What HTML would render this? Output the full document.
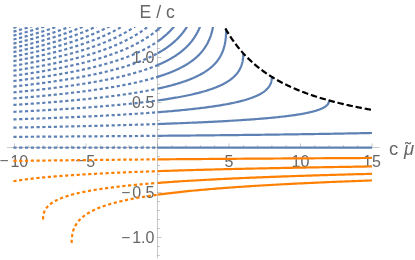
<!DOCTYPE html>
<html><head><meta charset="utf-8"><style>
html,body{margin:0;padding:0;background:#fff;}
svg{display:block;will-change:transform}
.c{fill:none;stroke-width:2.2;stroke-linecap:butt;stroke-linejoin:round}
.d{stroke-dasharray:1.0 4.78;stroke-linecap:square}
.a line{stroke:#666;stroke-width:0.36}
text{font-family:"Liberation Sans",sans-serif;fill:#666}
.t{font-size:16px}
.m{font-size:15.5px}
.l{font-size:18.5px}
</style></head><body>
<svg width="415" height="260" viewBox="0 0 415 260">
<defs><clipPath id="cp"><rect x="0" y="27.0" width="415" height="231.39999999999998"/></clipPath></defs>
<rect width="415" height="260" fill="#fff"/>
<g class="a">
<line x1="7.1" y1="147.5" x2="379.6" y2="147.5"/>
<line x1="157.5" y1="27.0" x2="157.5" y2="258.4"/>
<line x1="14.50" y1="147.5" x2="14.50" y2="143.4"/>
<line x1="28.80" y1="147.5" x2="28.80" y2="145.1"/>
<line x1="43.10" y1="147.5" x2="43.10" y2="145.1"/>
<line x1="57.40" y1="147.5" x2="57.40" y2="145.1"/>
<line x1="71.70" y1="147.5" x2="71.70" y2="145.1"/>
<line x1="86.00" y1="147.5" x2="86.00" y2="143.4"/>
<line x1="100.30" y1="147.5" x2="100.30" y2="145.1"/>
<line x1="114.60" y1="147.5" x2="114.60" y2="145.1"/>
<line x1="128.90" y1="147.5" x2="128.90" y2="145.1"/>
<line x1="143.20" y1="147.5" x2="143.20" y2="145.1"/>
<line x1="157.50" y1="147.5" x2="157.50" y2="143.4"/>
<line x1="171.80" y1="147.5" x2="171.80" y2="145.1"/>
<line x1="186.10" y1="147.5" x2="186.10" y2="145.1"/>
<line x1="200.40" y1="147.5" x2="200.40" y2="145.1"/>
<line x1="214.70" y1="147.5" x2="214.70" y2="145.1"/>
<line x1="229.00" y1="147.5" x2="229.00" y2="143.4"/>
<line x1="243.30" y1="147.5" x2="243.30" y2="145.1"/>
<line x1="257.60" y1="147.5" x2="257.60" y2="145.1"/>
<line x1="271.90" y1="147.5" x2="271.90" y2="145.1"/>
<line x1="286.20" y1="147.5" x2="286.20" y2="145.1"/>
<line x1="300.50" y1="147.5" x2="300.50" y2="143.4"/>
<line x1="314.80" y1="147.5" x2="314.80" y2="145.1"/>
<line x1="329.10" y1="147.5" x2="329.10" y2="145.1"/>
<line x1="343.40" y1="147.5" x2="343.40" y2="145.1"/>
<line x1="357.70" y1="147.5" x2="357.70" y2="145.1"/>
<line x1="372.00" y1="147.5" x2="372.00" y2="143.4"/>
<line x1="157.5" y1="255.50" x2="159.9" y2="255.50"/>
<line x1="157.5" y1="246.50" x2="159.9" y2="246.50"/>
<line x1="157.5" y1="237.50" x2="161.6" y2="237.50"/>
<line x1="157.5" y1="228.50" x2="159.9" y2="228.50"/>
<line x1="157.5" y1="219.50" x2="159.9" y2="219.50"/>
<line x1="157.5" y1="210.50" x2="159.9" y2="210.50"/>
<line x1="157.5" y1="201.50" x2="159.9" y2="201.50"/>
<line x1="157.5" y1="192.50" x2="161.6" y2="192.50"/>
<line x1="157.5" y1="183.50" x2="159.9" y2="183.50"/>
<line x1="157.5" y1="174.50" x2="159.9" y2="174.50"/>
<line x1="157.5" y1="165.50" x2="159.9" y2="165.50"/>
<line x1="157.5" y1="156.50" x2="159.9" y2="156.50"/>
<line x1="157.5" y1="147.50" x2="161.6" y2="147.50"/>
<line x1="157.5" y1="138.50" x2="159.9" y2="138.50"/>
<line x1="157.5" y1="129.50" x2="159.9" y2="129.50"/>
<line x1="157.5" y1="120.50" x2="159.9" y2="120.50"/>
<line x1="157.5" y1="111.50" x2="159.9" y2="111.50"/>
<line x1="157.5" y1="102.50" x2="161.6" y2="102.50"/>
<line x1="157.5" y1="93.50" x2="159.9" y2="93.50"/>
<line x1="157.5" y1="84.50" x2="159.9" y2="84.50"/>
<line x1="157.5" y1="75.50" x2="159.9" y2="75.50"/>
<line x1="157.5" y1="66.50" x2="159.9" y2="66.50"/>
<line x1="157.5" y1="57.50" x2="161.6" y2="57.50"/>
<line x1="157.5" y1="48.50" x2="159.9" y2="48.50"/>
<line x1="157.5" y1="39.50" x2="159.9" y2="39.50"/>
<line x1="157.5" y1="30.50" x2="159.9" y2="30.50"/>
</g>
<text x="15.00" y="166.5" text-anchor="middle" class="t"><tspan class="m" dx="-1.2" dy="-0.3">−</tspan><tspan dx="1.9" dy="0.3">10</tspan></text>
<text x="86.50" y="166.5" text-anchor="middle" class="t"><tspan class="m" dx="-1.2" dy="-0.3">−</tspan><tspan dx="1.9" dy="0.3">5</tspan></text>
<text x="229.00" y="166.5" text-anchor="middle" class="t">5</text>
<text x="300.50" y="166.5" text-anchor="middle" class="t">10</text>
<text x="372.00" y="166.5" text-anchor="middle" class="t">15</text>
<text x="154.3" y="63.10" text-anchor="end" class="t">1.0</text>
<text x="154.3" y="108.10" text-anchor="end" class="t">0.5</text>
<text x="155.6" y="198.10" text-anchor="end" class="t"><tspan class="m" dx="-1.2" dy="-0.3">−</tspan><tspan dx="1.9" dy="0.3">0.5</tspan></text>
<text x="155.6" y="243.10" text-anchor="end" class="t"><tspan class="m" dx="-1.2" dy="-0.3">−</tspan><tspan dx="1.9" dy="0.3">1.0</tspan></text>
<text x="139.6" y="17.5" class="l" textLength="35.2" lengthAdjust="spacingAndGlyphs">E / c</text>
<text x="388.9" y="154.8" class="l">c <tspan font-style="italic" dx="0.8">μ</tspan></text>
<text x="405.0" y="154.8" class="l">˜</text>
<g clip-path="url(#cp)">
<path d="M14.50 147.60 L15.81 147.60 L17.12 147.60 L18.44 147.60 L19.75 147.60 L21.06 147.60 L22.37 147.60 L23.68 147.60 L25.00 147.60 L26.31 147.60 L27.62 147.60 L28.93 147.60 L30.24 147.60 L31.56 147.60 L32.87 147.60 L34.18 147.60 L35.49 147.60 L36.80 147.60 L38.11 147.60 L39.43 147.60 L40.74 147.60 L42.05 147.60 L43.36 147.60 L44.67 147.60 L45.99 147.60 L47.30 147.60 L48.61 147.60 L49.92 147.60 L51.23 147.60 L52.55 147.60 L53.86 147.60 L55.17 147.60 L56.48 147.60 L57.79 147.60 L59.11 147.60 L60.42 147.60 L61.73 147.60 L63.04 147.60 L64.35 147.60 L65.67 147.60 L66.98 147.60 L68.29 147.60 L69.60 147.60 L70.91 147.60 L72.22 147.60 L73.54 147.60 L74.85 147.60 L76.16 147.60 L77.47 147.60 L78.78 147.60 L80.10 147.60 L81.41 147.60 L82.72 147.60 L84.03 147.60 L85.34 147.60 L86.66 147.60 L87.97 147.60 L89.28 147.60 L90.59 147.60 L91.90 147.60 L93.22 147.60 L94.53 147.60 L95.84 147.60 L97.15 147.60 L98.46 147.60 L99.78 147.60 L101.09 147.60 L102.40 147.60 L103.71 147.60 L105.02 147.60 L106.33 147.60 L107.65 147.60 L108.96 147.60 L110.27 147.60 L111.58 147.60 L112.89 147.60 L114.21 147.60 L115.52 147.60 L116.83 147.60 L118.14 147.60 L119.45 147.60 L120.77 147.60 L122.08 147.60 L123.39 147.60 L124.70 147.60 L126.01 147.60 L127.33 147.60 L128.64 147.60 L129.95 147.60 L131.26 147.60 L132.57 147.60 L133.89 147.60 L135.20 147.60 L136.51 147.60 L137.82 147.60 L139.13 147.60 L140.44 147.60 L141.76 147.60 L143.07 147.60 L144.38 147.60 L145.69 147.60 L147.00 147.60 L148.32 147.60 L149.63 147.60 L150.94 147.60 L152.25 147.60 L153.56 147.60 L154.88 147.60 L156.19 147.60 L157.50 147.60" stroke="#5e81b5" class="c d"/>
<path d="M157.50 147.60 L158.85 147.60 L160.20 147.60 L161.55 147.60 L162.90 147.60 L164.25 147.60 L165.59 147.60 L166.94 147.60 L168.29 147.60 L169.64 147.60 L170.99 147.60 L172.34 147.60 L173.69 147.60 L175.04 147.60 L176.39 147.60 L177.74 147.60 L179.08 147.60 L180.43 147.60 L181.78 147.60 L183.13 147.60 L184.48 147.60 L185.83 147.60 L187.18 147.60 L188.53 147.60 L189.88 147.60 L191.23 147.60 L192.58 147.60 L193.92 147.60 L195.27 147.60 L196.62 147.60 L197.97 147.60 L199.32 147.60 L200.67 147.60 L202.02 147.60 L203.37 147.60 L204.72 147.60 L206.07 147.60 L207.42 147.60 L208.76 147.60 L210.11 147.60 L211.46 147.60 L212.81 147.60 L214.16 147.60 L215.51 147.60 L216.86 147.60 L218.21 147.60 L219.56 147.60 L220.91 147.60 L222.25 147.60 L223.60 147.60 L224.95 147.60 L226.30 147.60 L227.65 147.60 L229.00 147.60 L230.35 147.60 L231.70 147.60 L233.05 147.60 L234.40 147.60 L235.75 147.60 L237.09 147.60 L238.44 147.60 L239.79 147.60 L241.14 147.60 L242.49 147.60 L243.84 147.60 L245.19 147.60 L246.54 147.60 L247.89 147.60 L249.24 147.60 L250.58 147.60 L251.93 147.60 L253.28 147.60 L254.63 147.60 L255.98 147.60 L257.33 147.60 L258.68 147.60 L260.03 147.60 L261.38 147.60 L262.73 147.60 L264.08 147.60 L265.42 147.60 L266.77 147.60 L268.12 147.60 L269.47 147.60 L270.82 147.60 L272.17 147.60 L273.52 147.60 L274.87 147.60 L276.22 147.60 L277.57 147.60 L278.92 147.60 L280.26 147.60 L281.61 147.60 L282.96 147.60 L284.31 147.60 L285.66 147.60 L287.01 147.60 L288.36 147.60 L289.71 147.60 L291.06 147.60 L292.41 147.60 L293.75 147.60 L295.10 147.60 L296.45 147.60 L297.80 147.60 L299.15 147.60 L300.50 147.60 L301.85 147.60 L303.20 147.60 L304.55 147.60 L305.90 147.60 L307.25 147.60 L308.59 147.60 L309.94 147.60 L311.29 147.60 L312.64 147.60 L313.99 147.60 L315.34 147.60 L316.69 147.60 L318.04 147.60 L319.39 147.60 L320.74 147.60 L322.08 147.60 L323.43 147.60 L324.78 147.60 L326.13 147.60 L327.48 147.60 L328.83 147.60 L330.18 147.60 L331.53 147.60 L332.88 147.60 L334.23 147.60 L335.58 147.60 L336.92 147.60 L338.27 147.60 L339.62 147.60 L340.97 147.60 L342.32 147.60 L343.67 147.60 L345.02 147.60 L346.37 147.60 L347.72 147.60 L349.07 147.60 L350.42 147.60 L351.76 147.60 L353.11 147.60 L354.46 147.60 L355.81 147.60 L357.16 147.60 L358.51 147.60 L359.86 147.60 L361.21 147.60 L362.56 147.60 L363.91 147.60 L365.25 147.60 L366.60 147.60 L367.95 147.60 L369.30 147.60 L370.65 147.60 L372.00 147.60" stroke="#5e81b5" class="c"/>
<path d="M14.50 136.84 L15.81 136.83 L17.12 136.83 L18.44 136.82 L19.75 136.81 L21.06 136.80 L22.37 136.79 L23.68 136.79 L25.00 136.78 L26.31 136.77 L27.62 136.76 L28.93 136.75 L30.24 136.75 L31.56 136.74 L32.87 136.73 L34.18 136.72 L35.49 136.71 L36.80 136.70 L38.11 136.70 L39.43 136.69 L40.74 136.68 L42.05 136.67 L43.36 136.66 L44.67 136.65 L45.99 136.65 L47.30 136.64 L48.61 136.63 L49.92 136.62 L51.23 136.61 L52.55 136.60 L53.86 136.60 L55.17 136.59 L56.48 136.58 L57.79 136.57 L59.11 136.56 L60.42 136.55 L61.73 136.54 L63.04 136.53 L64.35 136.53 L65.67 136.52 L66.98 136.51 L68.29 136.50 L69.60 136.49 L70.91 136.48 L72.22 136.47 L73.54 136.46 L74.85 136.45 L76.16 136.44 L77.47 136.44 L78.78 136.43 L80.10 136.42 L81.41 136.41 L82.72 136.40 L84.03 136.39 L85.34 136.38 L86.66 136.37 L87.97 136.36 L89.28 136.35 L90.59 136.34 L91.90 136.33 L93.22 136.32 L94.53 136.31 L95.84 136.31 L97.15 136.30 L98.46 136.29 L99.78 136.28 L101.09 136.27 L102.40 136.26 L103.71 136.25 L105.02 136.24 L106.33 136.23 L107.65 136.22 L108.96 136.21 L110.27 136.20 L111.58 136.19 L112.89 136.18 L114.21 136.17 L115.52 136.16 L116.83 136.15 L118.14 136.14 L119.45 136.13 L120.77 136.12 L122.08 136.11 L123.39 136.10 L124.70 136.09 L126.01 136.08 L127.33 136.07 L128.64 136.06 L129.95 136.05 L131.26 136.04 L132.57 136.03 L133.89 136.01 L135.20 136.00 L136.51 135.99 L137.82 135.98 L139.13 135.97 L140.44 135.96 L141.76 135.95 L143.07 135.94 L144.38 135.93 L145.69 135.92 L147.00 135.91 L148.32 135.90 L149.63 135.89 L150.94 135.87 L152.25 135.86 L153.56 135.85 L154.88 135.84 L156.19 135.83 L157.50 135.82" stroke="#5e81b5" class="c d"/>
<path d="M157.50 135.82 L158.85 135.81 L160.20 135.80 L161.55 135.78 L162.90 135.77 L164.25 135.76 L165.59 135.75 L166.94 135.74 L168.29 135.72 L169.64 135.71 L170.99 135.70 L172.34 135.69 L173.69 135.68 L175.04 135.66 L176.39 135.65 L177.74 135.64 L179.08 135.63 L180.43 135.62 L181.78 135.60 L183.13 135.59 L184.48 135.58 L185.83 135.57 L187.18 135.55 L188.53 135.54 L189.88 135.53 L191.23 135.51 L192.58 135.50 L193.92 135.49 L195.27 135.48 L196.62 135.46 L197.97 135.45 L199.32 135.44 L200.67 135.42 L202.02 135.41 L203.37 135.40 L204.72 135.38 L206.07 135.37 L207.42 135.36 L208.76 135.34 L210.11 135.33 L211.46 135.32 L212.81 135.30 L214.16 135.29 L215.51 135.27 L216.86 135.26 L218.21 135.25 L219.56 135.23 L220.91 135.22 L222.25 135.20 L223.60 135.19 L224.95 135.18 L226.30 135.16 L227.65 135.15 L229.00 135.13 L230.35 135.12 L231.70 135.10 L233.05 135.09 L234.40 135.07 L235.75 135.06 L237.09 135.04 L238.44 135.03 L239.79 135.01 L241.14 135.00 L242.49 134.98 L243.84 134.97 L245.19 134.95 L246.54 134.94 L247.89 134.92 L249.24 134.90 L250.58 134.89 L251.93 134.87 L253.28 134.86 L254.63 134.84 L255.98 134.83 L257.33 134.81 L258.68 134.79 L260.03 134.78 L261.38 134.76 L262.73 134.74 L264.08 134.73 L265.42 134.71 L266.77 134.69 L268.12 134.68 L269.47 134.66 L270.82 134.64 L272.17 134.63 L273.52 134.61 L274.87 134.59 L276.22 134.57 L277.57 134.56 L278.92 134.54 L280.26 134.52 L281.61 134.50 L282.96 134.48 L284.31 134.47 L285.66 134.45 L287.01 134.43 L288.36 134.41 L289.71 134.39 L291.06 134.37 L292.41 134.36 L293.75 134.34 L295.10 134.32 L296.45 134.30 L297.80 134.28 L299.15 134.26 L300.50 134.24 L301.85 134.22 L303.20 134.20 L304.55 134.18 L305.90 134.16 L307.25 134.14 L308.59 134.12 L309.94 134.10 L311.29 134.08 L312.64 134.06 L313.99 134.04 L315.34 134.02 L316.69 134.00 L318.04 133.98 L319.39 133.96 L320.74 133.93 L322.08 133.91 L323.43 133.89 L324.78 133.87 L326.13 133.85 L327.48 133.82 L328.83 133.80 L330.18 133.78 L331.53 133.76 L332.88 133.73 L334.23 133.71 L335.58 133.69 L336.92 133.66 L338.27 133.64 L339.62 133.62 L340.97 133.59 L342.32 133.57 L343.67 133.55 L345.02 133.52 L346.37 133.50 L347.72 133.47 L349.07 133.45 L350.42 133.42 L351.76 133.40 L353.11 133.37 L354.46 133.34 L355.81 133.32 L357.16 133.29 L358.51 133.27 L359.86 133.24 L361.21 133.21 L362.56 133.18 L363.91 133.16 L365.25 133.13 L366.60 133.10 L367.95 133.07 L369.30 133.04 L370.65 133.02 L372.00 132.99" stroke="#5e81b5" class="c"/>
<path d="M14.50 127.58 L15.81 127.56 L17.12 127.53 L18.44 127.51 L19.75 127.48 L21.06 127.46 L22.37 127.44 L23.68 127.41 L25.00 127.39 L26.31 127.36 L27.62 127.34 L28.93 127.31 L30.24 127.29 L31.56 127.26 L32.87 127.23 L34.18 127.21 L35.49 127.18 L36.80 127.16 L38.11 127.13 L39.43 127.10 L40.74 127.08 L42.05 127.05 L43.36 127.03 L44.67 127.00 L45.99 126.97 L47.30 126.95 L48.61 126.92 L49.92 126.89 L51.23 126.86 L52.55 126.84 L53.86 126.81 L55.17 126.78 L56.48 126.75 L57.79 126.72 L59.11 126.70 L60.42 126.67 L61.73 126.64 L63.04 126.61 L64.35 126.58 L65.67 126.55 L66.98 126.52 L68.29 126.50 L69.60 126.47 L70.91 126.44 L72.22 126.41 L73.54 126.38 L74.85 126.35 L76.16 126.32 L77.47 126.29 L78.78 126.26 L80.10 126.22 L81.41 126.19 L82.72 126.16 L84.03 126.13 L85.34 126.10 L86.66 126.07 L87.97 126.04 L89.28 126.01 L90.59 125.97 L91.90 125.94 L93.22 125.91 L94.53 125.88 L95.84 125.84 L97.15 125.81 L98.46 125.78 L99.78 125.74 L101.09 125.71 L102.40 125.68 L103.71 125.64 L105.02 125.61 L106.33 125.57 L107.65 125.54 L108.96 125.50 L110.27 125.47 L111.58 125.43 L112.89 125.40 L114.21 125.36 L115.52 125.33 L116.83 125.29 L118.14 125.25 L119.45 125.22 L120.77 125.18 L122.08 125.14 L123.39 125.11 L124.70 125.07 L126.01 125.03 L127.33 124.99 L128.64 124.95 L129.95 124.91 L131.26 124.88 L132.57 124.84 L133.89 124.80 L135.20 124.76 L136.51 124.72 L137.82 124.68 L139.13 124.64 L140.44 124.60 L141.76 124.56 L143.07 124.51 L144.38 124.47 L145.69 124.43 L147.00 124.39 L148.32 124.35 L149.63 124.30 L150.94 124.26 L152.25 124.22 L153.56 124.17 L154.88 124.13 L156.19 124.08 L157.50 124.04" stroke="#5e81b5" class="c d"/>
<path d="M157.50 124.04 L160.72 123.93 L163.89 123.81 L167.03 123.70 L170.13 123.59 L173.18 123.47 L176.20 123.36 L179.18 123.24 L182.12 123.13 L185.02 123.01 L187.88 122.89 L190.71 122.77 L193.49 122.65 L196.24 122.53 L198.95 122.41 L201.63 122.29 L204.27 122.17 L206.87 122.04 L209.43 121.92 L211.96 121.80 L214.45 121.67 L216.91 121.54 L219.33 121.42 L221.72 121.29 L224.07 121.16 L226.38 121.03 L228.67 120.90 L230.91 120.77 L233.13 120.64 L235.31 120.51 L237.46 120.37 L239.57 120.24 L241.65 120.10 L243.70 119.97 L245.72 119.83 L247.71 119.69 L249.66 119.56 L251.58 119.42 L253.47 119.28 L255.33 119.14 L257.16 119.00 L258.96 118.85 L260.73 118.71 L262.47 118.57 L264.17 118.42 L265.85 118.28 L267.50 118.13 L269.12 117.98 L270.72 117.84 L272.28 117.69 L273.82 117.54 L275.32 117.39 L276.80 117.24 L278.26 117.09 L279.68 116.93 L281.08 116.78 L282.45 116.63 L283.80 116.47 L285.12 116.31 L286.41 116.16 L287.68 116.00 L288.92 115.84 L290.14 115.68 L291.33 115.52 L292.50 115.36 L293.64 115.20 L294.76 115.04 L295.86 114.88 L296.93 114.71 L297.98 114.55 L299.00 114.39 L300.01 114.22 L300.99 114.05 L301.95 113.89 L302.88 113.72 L303.80 113.55 L304.69 113.38 L305.56 113.21 L306.41 113.04 L307.24 112.87 L308.05 112.70 L308.84 112.53 L309.61 112.35 L310.36 112.18 L311.09 112.01 L311.80 111.83 L312.49 111.66 L313.17 111.48 L313.82 111.31 L314.46 111.13 L315.08 110.95 L315.68 110.78 L316.26 110.60 L316.83 110.42 L317.38 110.24 L317.91 110.06 L318.43 109.88 L318.93 109.70 L319.41 109.52 L319.88 109.34 L320.33 109.16 L320.77 108.98 L321.19 108.80 L321.60 108.62 L322.00 108.44 L322.38 108.26 L322.74 108.08 L323.10 107.90 L323.44 107.72 L323.76 107.54 L324.08 107.36 L324.38 107.18 L324.67 107.00 L324.94 106.82 L325.21 106.64 L325.46 106.46 L325.71 106.29 L325.94 106.11 L326.16 105.93 L326.37 105.76 L326.57 105.58 L326.76 105.41 L326.94 105.23 L327.11 105.06 L327.27 104.89 L327.42 104.72 L327.57 104.55 L327.70 104.38 L327.83 104.21 L327.95 104.05 L328.06 103.88 L328.16 103.72 L328.26 103.56 L328.35 103.40 L328.43 103.24 L328.51 103.09 L328.58 102.93 L328.65 102.78 L328.70 102.63 L328.76 102.49 L328.81 102.35 L328.85 102.21 L328.89 102.07 L328.93 101.93 L328.96 101.80 L328.98 101.68 L329.01 101.55 L329.03 101.43 L329.04 101.32 L329.06 101.21 L329.07 101.10 L329.08 101.00 L329.09 100.91 L329.09 100.82 L329.09 100.74 L329.10 100.66 L329.10 100.60 L329.10 100.54 L329.10 100.50 L329.10 100.48" stroke="#5e81b5" class="c"/>
<path d="M14.50 119.33 L15.81 119.28 L17.12 119.24 L18.44 119.19 L19.75 119.15 L21.06 119.11 L22.37 119.06 L23.68 119.02 L25.00 118.97 L26.31 118.93 L27.62 118.88 L28.93 118.83 L30.24 118.79 L31.56 118.74 L32.87 118.70 L34.18 118.65 L35.49 118.60 L36.80 118.55 L38.11 118.51 L39.43 118.46 L40.74 118.41 L42.05 118.36 L43.36 118.31 L44.67 118.26 L45.99 118.21 L47.30 118.16 L48.61 118.11 L49.92 118.06 L51.23 118.01 L52.55 117.96 L53.86 117.91 L55.17 117.86 L56.48 117.80 L57.79 117.75 L59.11 117.70 L60.42 117.64 L61.73 117.59 L63.04 117.54 L64.35 117.48 L65.67 117.43 L66.98 117.37 L68.29 117.32 L69.60 117.26 L70.91 117.20 L72.22 117.15 L73.54 117.09 L74.85 117.03 L76.16 116.97 L77.47 116.92 L78.78 116.86 L80.10 116.80 L81.41 116.74 L82.72 116.68 L84.03 116.62 L85.34 116.56 L86.66 116.50 L87.97 116.43 L89.28 116.37 L90.59 116.31 L91.90 116.24 L93.22 116.18 L94.53 116.12 L95.84 116.05 L97.15 115.99 L98.46 115.92 L99.78 115.85 L101.09 115.79 L102.40 115.72 L103.71 115.65 L105.02 115.58 L106.33 115.51 L107.65 115.44 L108.96 115.37 L110.27 115.30 L111.58 115.23 L112.89 115.16 L114.21 115.09 L115.52 115.01 L116.83 114.94 L118.14 114.86 L119.45 114.79 L120.77 114.71 L122.08 114.64 L123.39 114.56 L124.70 114.48 L126.01 114.40 L127.33 114.32 L128.64 114.24 L129.95 114.16 L131.26 114.08 L132.57 114.00 L133.89 113.91 L135.20 113.83 L136.51 113.74 L137.82 113.66 L139.13 113.57 L140.44 113.48 L141.76 113.40 L143.07 113.31 L144.38 113.22 L145.69 113.12 L147.00 113.03 L148.32 112.94 L149.63 112.84 L150.94 112.75 L152.25 112.65 L153.56 112.56 L154.88 112.46 L156.19 112.36 L157.50 112.26" stroke="#5e81b5" class="c d"/>
<path d="M157.50 112.26 L159.64 112.09 L161.76 111.92 L163.85 111.75 L165.92 111.58 L167.96 111.41 L169.97 111.24 L171.95 111.06 L173.91 110.89 L175.85 110.71 L177.76 110.54 L179.64 110.36 L181.50 110.18 L183.33 110.00 L185.14 109.82 L186.92 109.64 L188.68 109.45 L190.41 109.27 L192.12 109.08 L193.81 108.89 L195.47 108.71 L197.11 108.52 L198.72 108.33 L200.31 108.13 L201.88 107.94 L203.42 107.75 L204.94 107.55 L206.44 107.36 L207.92 107.16 L209.37 106.96 L210.81 106.76 L212.22 106.56 L213.60 106.36 L214.97 106.15 L216.31 105.95 L217.64 105.74 L218.94 105.54 L220.22 105.33 L221.48 105.12 L222.72 104.91 L223.94 104.69 L225.14 104.48 L226.32 104.27 L227.48 104.05 L228.62 103.83 L229.74 103.62 L230.84 103.40 L231.92 103.18 L232.98 102.96 L234.02 102.73 L235.04 102.51 L236.05 102.28 L237.04 102.06 L238.00 101.83 L238.95 101.60 L239.89 101.37 L240.80 101.14 L241.70 100.91 L242.58 100.67 L243.44 100.44 L244.29 100.20 L245.11 99.96 L245.93 99.73 L246.72 99.49 L247.50 99.25 L248.26 99.00 L249.01 98.76 L249.74 98.52 L250.45 98.27 L251.15 98.03 L251.84 97.78 L252.51 97.53 L253.16 97.28 L253.80 97.03 L254.42 96.78 L255.03 96.53 L255.63 96.27 L256.21 96.02 L256.78 95.76 L257.33 95.51 L257.87 95.25 L258.39 94.99 L258.91 94.73 L259.41 94.47 L259.89 94.21 L260.37 93.95 L260.83 93.69 L261.28 93.42 L261.71 93.16 L262.14 92.89 L262.55 92.63 L262.95 92.36 L263.34 92.10 L263.72 91.83 L264.08 91.56 L264.44 91.29 L264.78 91.02 L265.12 90.76 L265.44 90.49 L265.75 90.22 L266.05 89.95 L266.35 89.68 L266.63 89.41 L266.90 89.13 L267.16 88.86 L267.42 88.59 L267.66 88.32 L267.90 88.05 L268.12 87.78 L268.34 87.51 L268.55 87.24 L268.75 86.97 L268.95 86.70 L269.13 86.43 L269.31 86.16 L269.48 85.90 L269.64 85.63 L269.79 85.36 L269.94 85.10 L270.08 84.83 L270.21 84.57 L270.34 84.31 L270.46 84.05 L270.57 83.79 L270.68 83.53 L270.78 83.27 L270.88 83.02 L270.97 82.77 L271.05 82.52 L271.13 82.27 L271.21 82.02 L271.28 81.78 L271.34 81.54 L271.40 81.30 L271.46 81.06 L271.51 80.83 L271.55 80.60 L271.60 80.37 L271.64 80.15 L271.67 79.93 L271.70 79.72 L271.73 79.51 L271.76 79.30 L271.78 79.10 L271.80 78.90 L271.82 78.71 L271.84 78.53 L271.85 78.35 L271.86 78.18 L271.87 78.01 L271.88 77.85 L271.89 77.70 L271.89 77.56 L271.89 77.43 L271.90 77.31 L271.90 77.20 L271.90 77.10 L271.90 77.01 L271.90 76.95 L271.90 76.91" stroke="#5e81b5" class="c"/>
<path d="M14.50 111.81 L15.81 111.74 L17.12 111.68 L18.44 111.61 L19.75 111.55 L21.06 111.48 L22.37 111.42 L23.68 111.35 L25.00 111.28 L26.31 111.22 L27.62 111.15 L28.93 111.08 L30.24 111.01 L31.56 110.94 L32.87 110.87 L34.18 110.80 L35.49 110.73 L36.80 110.66 L38.11 110.59 L39.43 110.52 L40.74 110.44 L42.05 110.37 L43.36 110.30 L44.67 110.22 L45.99 110.15 L47.30 110.07 L48.61 110.00 L49.92 109.92 L51.23 109.84 L52.55 109.77 L53.86 109.69 L55.17 109.61 L56.48 109.53 L57.79 109.45 L59.11 109.37 L60.42 109.29 L61.73 109.21 L63.04 109.12 L64.35 109.04 L65.67 108.96 L66.98 108.87 L68.29 108.79 L69.60 108.70 L70.91 108.61 L72.22 108.53 L73.54 108.44 L74.85 108.35 L76.16 108.26 L77.47 108.17 L78.78 108.08 L80.10 107.99 L81.41 107.89 L82.72 107.80 L84.03 107.71 L85.34 107.61 L86.66 107.51 L87.97 107.42 L89.28 107.32 L90.59 107.22 L91.90 107.12 L93.22 107.02 L94.53 106.92 L95.84 106.82 L97.15 106.71 L98.46 106.61 L99.78 106.50 L101.09 106.40 L102.40 106.29 L103.71 106.18 L105.02 106.07 L106.33 105.96 L107.65 105.85 L108.96 105.74 L110.27 105.62 L111.58 105.51 L112.89 105.39 L114.21 105.27 L115.52 105.15 L116.83 105.03 L118.14 104.91 L119.45 104.79 L120.77 104.66 L122.08 104.54 L123.39 104.41 L124.70 104.28 L126.01 104.15 L127.33 104.02 L128.64 103.89 L129.95 103.75 L131.26 103.61 L132.57 103.48 L133.89 103.34 L135.20 103.20 L136.51 103.05 L137.82 102.91 L139.13 102.76 L140.44 102.61 L141.76 102.46 L143.07 102.31 L144.38 102.15 L145.69 101.99 L147.00 101.84 L148.32 101.67 L149.63 101.51 L150.94 101.34 L152.25 101.18 L153.56 101.00 L154.88 100.83 L156.19 100.65 L157.50 100.48" stroke="#5e81b5" class="c d"/>
<path d="M157.50 100.48 L159.11 100.25 L160.70 100.03 L162.27 99.80 L163.81 99.58 L165.34 99.35 L166.85 99.12 L168.34 98.89 L169.81 98.65 L171.26 98.42 L172.69 98.18 L174.10 97.94 L175.50 97.71 L176.87 97.47 L178.23 97.22 L179.56 96.98 L180.88 96.74 L182.18 96.49 L183.47 96.24 L184.73 95.99 L185.98 95.74 L187.20 95.49 L188.41 95.23 L189.61 94.98 L190.78 94.72 L191.94 94.46 L193.08 94.20 L194.21 93.94 L195.31 93.68 L196.41 93.41 L197.48 93.15 L198.54 92.88 L199.58 92.61 L200.60 92.34 L201.61 92.06 L202.60 91.79 L203.58 91.51 L204.54 91.24 L205.49 90.96 L206.42 90.68 L207.33 90.39 L208.23 90.11 L209.11 89.82 L209.98 89.54 L210.84 89.25 L211.68 88.96 L212.50 88.66 L213.31 88.37 L214.11 88.07 L214.89 87.78 L215.66 87.48 L216.41 87.18 L217.15 86.88 L217.88 86.57 L218.59 86.27 L219.29 85.96 L219.98 85.65 L220.65 85.34 L221.31 85.03 L221.96 84.72 L222.59 84.40 L223.21 84.09 L223.82 83.77 L224.42 83.45 L225.00 83.13 L225.57 82.81 L226.13 82.48 L226.68 82.16 L227.22 81.83 L227.74 81.50 L228.25 81.17 L228.75 80.84 L229.24 80.51 L229.72 80.17 L230.19 79.84 L230.65 79.50 L231.10 79.16 L231.53 78.82 L231.96 78.48 L232.37 78.14 L232.78 77.80 L233.17 77.45 L233.56 77.11 L233.93 76.76 L234.30 76.41 L234.65 76.07 L235.00 75.72 L235.33 75.36 L235.66 75.01 L235.98 74.66 L236.29 74.31 L236.59 73.95 L236.88 73.60 L237.16 73.24 L237.44 72.88 L237.70 72.52 L237.96 72.17 L238.21 71.81 L238.46 71.45 L238.69 71.09 L238.92 70.73 L239.14 70.37 L239.35 70.01 L239.55 69.65 L239.75 69.29 L239.94 68.92 L240.12 68.56 L240.30 68.20 L240.47 67.84 L240.63 67.48 L240.79 67.12 L240.94 66.76 L241.08 66.40 L241.22 66.04 L241.35 65.69 L241.48 65.33 L241.60 64.97 L241.72 64.62 L241.83 64.26 L241.93 63.91 L242.03 63.56 L242.13 63.21 L242.22 62.86 L242.30 62.52 L242.38 62.17 L242.46 61.83 L242.53 61.49 L242.60 61.16 L242.66 60.82 L242.72 60.49 L242.78 60.16 L242.83 59.84 L242.88 59.52 L242.92 59.20 L242.97 58.88 L243.00 58.57 L243.04 58.27 L243.07 57.97 L243.10 57.67 L243.13 57.38 L243.15 57.09 L243.18 56.81 L243.20 56.54 L243.21 56.27 L243.23 56.01 L243.24 55.75 L243.25 55.51 L243.26 55.27 L243.27 55.04 L243.28 54.82 L243.28 54.60 L243.29 54.40 L243.29 54.21 L243.30 54.04 L243.30 53.87 L243.30 53.73 L243.30 53.60 L243.30 53.48 L243.30 53.40 L243.30 53.35" stroke="#5e81b5" class="c"/>
<path d="M14.50 104.85 L15.81 104.77 L17.12 104.68 L18.44 104.60 L19.75 104.51 L21.06 104.42 L22.37 104.33 L23.68 104.25 L25.00 104.16 L26.31 104.07 L27.62 103.98 L28.93 103.89 L30.24 103.79 L31.56 103.70 L32.87 103.61 L34.18 103.51 L35.49 103.42 L36.80 103.32 L38.11 103.23 L39.43 103.13 L40.74 103.03 L42.05 102.94 L43.36 102.84 L44.67 102.74 L45.99 102.64 L47.30 102.53 L48.61 102.43 L49.92 102.33 L51.23 102.22 L52.55 102.12 L53.86 102.01 L55.17 101.91 L56.48 101.80 L57.79 101.69 L59.11 101.58 L60.42 101.47 L61.73 101.36 L63.04 101.25 L64.35 101.13 L65.67 101.02 L66.98 100.90 L68.29 100.78 L69.60 100.67 L70.91 100.55 L72.22 100.43 L73.54 100.31 L74.85 100.18 L76.16 100.06 L77.47 99.94 L78.78 99.81 L80.10 99.68 L81.41 99.56 L82.72 99.43 L84.03 99.29 L85.34 99.16 L86.66 99.03 L87.97 98.89 L89.28 98.76 L90.59 98.62 L91.90 98.48 L93.22 98.34 L94.53 98.20 L95.84 98.05 L97.15 97.91 L98.46 97.76 L99.78 97.61 L101.09 97.46 L102.40 97.31 L103.71 97.16 L105.02 97.00 L106.33 96.84 L107.65 96.69 L108.96 96.52 L110.27 96.36 L111.58 96.20 L112.89 96.03 L114.21 95.86 L115.52 95.69 L116.83 95.52 L118.14 95.34 L119.45 95.16 L120.77 94.98 L122.08 94.80 L123.39 94.62 L124.70 94.43 L126.01 94.24 L127.33 94.05 L128.64 93.85 L129.95 93.65 L131.26 93.45 L132.57 93.25 L133.89 93.04 L135.20 92.83 L136.51 92.62 L137.82 92.40 L139.13 92.18 L140.44 91.96 L141.76 91.73 L143.07 91.50 L144.38 91.27 L145.69 91.03 L147.00 90.79 L148.32 90.54 L149.63 90.29 L150.94 90.04 L152.25 89.78 L153.56 89.52 L154.88 89.25 L156.19 88.97 L157.50 88.70" stroke="#5e81b5" class="c d"/>
<path d="M157.50 88.70 L158.79 88.42 L160.06 88.14 L161.31 87.85 L162.55 87.57 L163.77 87.28 L164.98 87.00 L166.17 86.71 L167.35 86.42 L168.51 86.12 L169.65 85.83 L170.78 85.53 L171.90 85.23 L173.00 84.93 L174.08 84.63 L175.15 84.33 L176.21 84.02 L177.25 83.71 L178.27 83.40 L179.28 83.09 L180.28 82.78 L181.26 82.46 L182.23 82.14 L183.19 81.82 L184.13 81.50 L185.05 81.18 L185.97 80.85 L186.87 80.53 L187.75 80.20 L188.62 79.87 L189.48 79.53 L190.33 79.20 L191.16 78.86 L191.98 78.52 L192.79 78.18 L193.58 77.84 L194.36 77.49 L195.13 77.14 L195.89 76.80 L196.63 76.44 L197.36 76.09 L198.08 75.74 L198.79 75.38 L199.49 75.02 L200.17 74.66 L200.84 74.29 L201.50 73.93 L202.15 73.56 L202.79 73.19 L203.41 72.82 L204.03 72.45 L204.63 72.07 L205.22 71.69 L205.80 71.31 L206.37 70.93 L206.93 70.55 L207.48 70.16 L208.02 69.78 L208.55 69.39 L209.06 69.00 L209.57 68.60 L210.07 68.21 L210.56 67.81 L211.03 67.41 L211.50 67.01 L211.96 66.61 L212.40 66.20 L212.84 65.80 L213.27 65.39 L213.69 64.98 L214.10 64.56 L214.50 64.15 L214.90 63.73 L215.28 63.32 L215.65 62.90 L216.02 62.48 L216.38 62.05 L216.72 61.63 L217.07 61.20 L217.40 60.78 L217.72 60.35 L218.04 59.92 L218.34 59.49 L218.64 59.05 L218.94 58.62 L219.22 58.18 L219.50 57.74 L219.77 57.31 L220.03 56.87 L220.28 56.42 L220.53 55.98 L220.77 55.54 L221.00 55.09 L221.23 54.65 L221.45 54.20 L221.66 53.76 L221.87 53.31 L222.07 52.86 L222.26 52.41 L222.45 51.96 L222.63 51.51 L222.81 51.06 L222.98 50.61 L223.14 50.16 L223.30 49.71 L223.45 49.25 L223.60 48.80 L223.74 48.35 L223.87 47.90 L224.01 47.45 L224.13 47.00 L224.25 46.55 L224.37 46.10 L224.48 45.65 L224.58 45.21 L224.69 44.76 L224.78 44.32 L224.87 43.87 L224.96 43.43 L225.05 42.99 L225.13 42.55 L225.20 42.11 L225.28 41.68 L225.34 41.25 L225.41 40.82 L225.47 40.39 L225.53 39.97 L225.58 39.55 L225.63 39.13 L225.68 38.71 L225.72 38.30 L225.77 37.90 L225.80 37.49 L225.84 37.10 L225.87 36.70 L225.90 36.32 L225.93 35.93 L225.96 35.56 L225.98 35.19 L226.00 34.82 L226.02 34.46 L226.04 34.11 L226.06 33.77 L226.07 33.43 L226.08 33.11 L226.09 32.79 L226.10 32.48 L226.11 32.18 L226.12 31.90 L226.12 31.62 L226.13 31.36 L226.13 31.11 L226.13 30.87 L226.14 30.65 L226.14 30.44 L226.14 30.26 L226.14 30.09 L226.14 29.96 L226.14 29.85 L226.14 29.79" stroke="#5e81b5" class="c"/>
<path d="M14.50 98.36 L15.81 98.25 L17.12 98.14 L18.44 98.04 L19.75 97.93 L21.06 97.82 L22.37 97.71 L23.68 97.60 L25.00 97.49 L26.31 97.38 L27.62 97.26 L28.93 97.15 L30.24 97.03 L31.56 96.92 L32.87 96.80 L34.18 96.68 L35.49 96.56 L36.80 96.44 L38.11 96.32 L39.43 96.20 L40.74 96.08 L42.05 95.95 L43.36 95.83 L44.67 95.70 L45.99 95.58 L47.30 95.45 L48.61 95.32 L49.92 95.19 L51.23 95.06 L52.55 94.92 L53.86 94.79 L55.17 94.65 L56.48 94.52 L57.79 94.38 L59.11 94.24 L60.42 94.10 L61.73 93.96 L63.04 93.81 L64.35 93.67 L65.67 93.52 L66.98 93.37 L68.29 93.22 L69.60 93.07 L70.91 92.92 L72.22 92.77 L73.54 92.61 L74.85 92.45 L76.16 92.30 L77.47 92.14 L78.78 91.97 L80.10 91.81 L81.41 91.64 L82.72 91.48 L84.03 91.31 L85.34 91.14 L86.66 90.96 L87.97 90.79 L89.28 90.61 L90.59 90.43 L91.90 90.25 L93.22 90.07 L94.53 89.88 L95.84 89.70 L97.15 89.51 L98.46 89.31 L99.78 89.12 L101.09 88.92 L102.40 88.72 L103.71 88.52 L105.02 88.32 L106.33 88.11 L107.65 87.90 L108.96 87.69 L110.27 87.47 L111.58 87.25 L112.89 87.03 L114.21 86.81 L115.52 86.58 L116.83 86.35 L118.14 86.11 L119.45 85.88 L120.77 85.64 L122.08 85.39 L123.39 85.14 L124.70 84.89 L126.01 84.63 L127.33 84.37 L128.64 84.11 L129.95 83.84 L131.26 83.57 L132.57 83.29 L133.89 83.01 L135.20 82.72 L136.51 82.43 L137.82 82.13 L139.13 81.83 L140.44 81.52 L141.76 81.21 L143.07 80.89 L144.38 80.56 L145.69 80.23 L147.00 79.89 L148.32 79.54 L149.63 79.19 L150.94 78.83 L152.25 78.47 L153.56 78.09 L154.88 77.71 L156.19 77.31 L157.50 76.91" stroke="#5e81b5" class="c d"/>
<path d="M157.50 76.91 L158.57 76.58 L159.63 76.24 L160.68 75.90 L161.71 75.56 L162.73 75.22 L163.73 74.88 L164.73 74.53 L165.71 74.18 L166.67 73.83 L167.63 73.47 L168.57 73.12 L169.50 72.76 L170.41 72.40 L171.32 72.04 L172.21 71.67 L173.09 71.30 L173.96 70.93 L174.81 70.56 L175.65 70.19 L176.48 69.81 L177.30 69.43 L178.11 69.05 L178.91 68.67 L179.69 68.28 L180.46 67.89 L181.22 67.50 L181.97 67.11 L182.71 66.72 L183.44 66.32 L184.15 65.92 L184.86 65.52 L185.55 65.11 L186.23 64.71 L186.91 64.30 L187.57 63.88 L188.22 63.47 L188.86 63.05 L189.49 62.63 L190.11 62.21 L190.72 61.79 L191.32 61.36 L191.91 60.93 L192.49 60.50 L193.06 60.07 L193.62 59.63 L194.17 59.19 L194.71 58.75 L195.24 58.31 L195.76 57.86 L196.27 57.42 L196.77 56.97 L197.27 56.51 L197.75 56.06 L198.23 55.60 L198.69 55.14 L199.15 54.68 L199.60 54.21 L200.04 53.74 L200.47 53.28 L200.89 52.80 L201.31 52.33 L201.71 51.85 L202.11 51.37 L202.50 50.89 L202.88 50.41 L203.25 49.92 L203.62 49.43 L203.98 48.94 L204.33 48.45 L204.67 47.96 L205.00 47.46 L205.33 46.96 L205.65 46.46 L205.96 45.96 L206.27 45.45 L206.56 44.95 L206.85 44.44 L207.14 43.93 L207.41 43.41 L207.68 42.90 L207.95 42.38 L208.20 41.86 L208.45 41.34 L208.70 40.82 L208.93 40.30 L209.16 39.77 L209.39 39.25 L209.61 38.72 L209.82 38.19 L210.03 37.66 L210.23 37.13 L210.42 36.59 L210.61 36.06 L210.79 35.52 L210.97 34.99 L211.14 34.45 L211.31 33.91 L211.47 33.37 L211.63 32.83 L211.78 32.29 L211.92 31.75 L212.06 31.21 L212.20 30.67 L212.33 30.13 L212.46 29.59 L212.58 29.04 L212.70 28.50 L212.81 27.96 L212.92 27.42 L213.03 26.88 L213.13 26.34 L213.22 25.80 L213.31 25.27 L213.40 24.73 L213.49 24.19 L213.57 23.66 L213.65 23.13 L213.72 22.60 L213.79 22.07 L213.86 21.54 L213.92 21.02 L213.98 20.50 L214.04 19.98 L214.09 19.46 L214.14 18.95 L214.19 18.44 L214.23 17.94 L214.28 17.43 L214.32 16.94 L214.35 16.44 L214.39 15.96 L214.42 15.47 L214.45 15.00 L214.48 14.53 L214.50 14.06 L214.53 13.60 L214.55 13.15 L214.57 12.70 L214.59 12.27 L214.60 11.84 L214.62 11.42 L214.63 11.00 L214.64 10.60 L214.65 10.21 L214.66 9.83 L214.67 9.46 L214.68 9.10 L214.68 8.75 L214.69 8.42 L214.69 8.11 L214.69 7.81 L214.70 7.52 L214.70 7.26 L214.70 7.01 L214.70 6.79 L214.70 6.59 L214.70 6.43 L214.70 6.30 L214.70 6.23" stroke="#5e81b5" class="c"/>
<path d="M14.50 92.24 L15.81 92.11 L17.12 91.98 L18.44 91.85 L19.75 91.72 L21.06 91.59 L22.37 91.46 L23.68 91.33 L25.00 91.20 L26.31 91.06 L27.62 90.93 L28.93 90.79 L30.24 90.65 L31.56 90.51 L32.87 90.37 L34.18 90.23 L35.49 90.09 L36.80 89.94 L38.11 89.80 L39.43 89.65 L40.74 89.50 L42.05 89.35 L43.36 89.20 L44.67 89.05 L45.99 88.90 L47.30 88.74 L48.61 88.58 L49.92 88.43 L51.23 88.27 L52.55 88.10 L53.86 87.94 L55.17 87.78 L56.48 87.61 L57.79 87.44 L59.11 87.27 L60.42 87.10 L61.73 86.93 L63.04 86.76 L64.35 86.58 L65.67 86.40 L66.98 86.22 L68.29 86.04 L69.60 85.85 L70.91 85.67 L72.22 85.48 L73.54 85.29 L74.85 85.10 L76.16 84.90 L77.47 84.71 L78.78 84.51 L80.10 84.31 L81.41 84.10 L82.72 83.90 L84.03 83.69 L85.34 83.48 L86.66 83.26 L87.97 83.05 L89.28 82.83 L90.59 82.61 L91.90 82.38 L93.22 82.16 L94.53 81.93 L95.84 81.69 L97.15 81.46 L98.46 81.22 L99.78 80.98 L101.09 80.73 L102.40 80.48 L103.71 80.23 L105.02 79.97 L106.33 79.71 L107.65 79.45 L108.96 79.18 L110.27 78.91 L111.58 78.64 L112.89 78.36 L114.21 78.07 L115.52 77.79 L116.83 77.49 L118.14 77.20 L119.45 76.89 L120.77 76.59 L122.08 76.28 L123.39 75.96 L124.70 75.64 L126.01 75.31 L127.33 74.97 L128.64 74.63 L129.95 74.29 L131.26 73.94 L132.57 73.58 L133.89 73.21 L135.20 72.84 L136.51 72.46 L137.82 72.07 L139.13 71.68 L140.44 71.28 L141.76 70.86 L143.07 70.44 L144.38 70.02 L145.69 69.58 L147.00 69.13 L148.32 68.67 L149.63 68.20 L150.94 67.72 L152.25 67.23 L153.56 66.72 L154.88 66.21 L156.19 65.68 L157.50 65.13" stroke="#5e81b5" class="c d"/>
<path d="M157.50 65.13 L158.42 64.74 L159.33 64.35 L160.22 63.96 L161.11 63.56 L161.98 63.16 L162.84 62.75 L163.69 62.35 L164.53 61.94 L165.36 61.53 L166.18 61.12 L166.99 60.70 L167.78 60.29 L168.57 59.86 L169.34 59.44 L170.11 59.02 L170.86 58.59 L171.60 58.16 L172.34 57.72 L173.06 57.29 L173.77 56.85 L174.47 56.40 L175.17 55.96 L175.85 55.51 L176.52 55.06 L177.18 54.61 L177.83 54.16 L178.48 53.70 L179.11 53.24 L179.73 52.77 L180.35 52.31 L180.95 51.84 L181.54 51.36 L182.13 50.89 L182.71 50.41 L183.27 49.93 L183.83 49.45 L184.38 48.96 L184.92 48.47 L185.45 47.98 L185.97 47.49 L186.49 46.99 L186.99 46.49 L187.49 45.99 L187.98 45.48 L188.46 44.97 L188.93 44.46 L189.39 43.95 L189.85 43.43 L190.29 42.91 L190.73 42.39 L191.16 41.86 L191.59 41.33 L192.00 40.80 L192.41 40.27 L192.81 39.73 L193.20 39.19 L193.58 38.65 L193.96 38.10 L194.33 37.55 L194.69 37.00 L195.05 36.45 L195.40 35.89 L195.74 35.34 L196.07 34.77 L196.40 34.21 L196.72 33.64 L197.03 33.07 L197.34 32.50 L197.64 31.93 L197.93 31.35 L198.22 30.77 L198.50 30.19 L198.77 29.60 L199.04 29.02 L199.30 28.43 L199.55 27.84 L199.80 27.24 L200.05 26.65 L200.28 26.05 L200.51 25.45 L200.74 24.84 L200.96 24.24 L201.17 23.63 L201.38 23.02 L201.59 22.41 L201.78 21.80 L201.98 21.19 L202.16 20.57 L202.34 19.95 L202.52 19.33 L202.69 18.71 L202.86 18.09 L203.02 17.47 L203.18 16.84 L203.33 16.22 L203.48 15.59 L203.62 14.96 L203.76 14.33 L203.89 13.70 L204.02 13.07 L204.15 12.44 L204.27 11.81 L204.39 11.18 L204.50 10.55 L204.61 9.92 L204.71 9.29 L204.81 8.65 L204.91 8.02 L205.00 7.39 L205.09 6.76 L205.18 6.13 L205.26 5.50 L205.34 4.88 L205.42 4.25 L205.49 3.63 L205.56 3.00 L205.62 2.38 L205.69 1.76 L205.75 1.15 L205.81 0.53 L205.86 -0.08 L205.91 -0.69 L205.96 -1.29 L206.01 -1.89 L206.05 -2.49 L206.09 -3.09 L206.13 -3.68 L206.17 -4.26 L206.20 -4.84 L206.23 -5.41 L206.26 -5.98 L206.29 -6.55 L206.31 -7.10 L206.34 -7.65 L206.36 -8.20 L206.38 -8.73 L206.40 -9.26 L206.42 -9.78 L206.43 -10.29 L206.44 -10.79 L206.46 -11.28 L206.47 -11.76 L206.48 -12.23 L206.49 -12.69 L206.50 -13.13 L206.50 -13.57 L206.51 -13.98 L206.51 -14.39 L206.52 -14.77 L206.52 -15.14 L206.52 -15.49 L206.52 -15.82 L206.53 -16.13 L206.53 -16.42 L206.53 -16.68 L206.53 -16.91 L206.53 -17.10 L206.53 -17.25 L206.53 -17.33" stroke="#5e81b5" class="c"/>
<path d="M14.50 86.43 L15.81 86.29 L17.12 86.14 L18.44 85.99 L19.75 85.84 L21.06 85.69 L22.37 85.54 L23.68 85.38 L25.00 85.23 L26.31 85.07 L27.62 84.91 L28.93 84.75 L30.24 84.59 L31.56 84.43 L32.87 84.26 L34.18 84.10 L35.49 83.93 L36.80 83.76 L38.11 83.59 L39.43 83.42 L40.74 83.25 L42.05 83.07 L43.36 82.90 L44.67 82.72 L45.99 82.54 L47.30 82.36 L48.61 82.17 L49.92 81.99 L51.23 81.80 L52.55 81.61 L53.86 81.42 L55.17 81.23 L56.48 81.03 L57.79 80.83 L59.11 80.63 L60.42 80.43 L61.73 80.23 L63.04 80.02 L64.35 79.82 L65.67 79.60 L66.98 79.39 L68.29 79.18 L69.60 78.96 L70.91 78.74 L72.22 78.52 L73.54 78.29 L74.85 78.06 L76.16 77.83 L77.47 77.60 L78.78 77.36 L80.10 77.12 L81.41 76.88 L82.72 76.64 L84.03 76.39 L85.34 76.14 L86.66 75.88 L87.97 75.62 L89.28 75.36 L90.59 75.10 L91.90 74.83 L93.22 74.56 L94.53 74.28 L95.84 74.00 L97.15 73.72 L98.46 73.43 L99.78 73.14 L101.09 72.84 L102.40 72.54 L103.71 72.24 L105.02 71.93 L106.33 71.62 L107.65 71.30 L108.96 70.97 L110.27 70.65 L111.58 70.31 L112.89 69.97 L114.21 69.63 L115.52 69.28 L116.83 68.92 L118.14 68.56 L119.45 68.19 L120.77 67.81 L122.08 67.43 L123.39 67.04 L124.70 66.64 L126.01 66.24 L127.33 65.83 L128.64 65.41 L129.95 64.98 L131.26 64.54 L132.57 64.10 L133.89 63.64 L135.20 63.18 L136.51 62.71 L137.82 62.22 L139.13 61.73 L140.44 61.22 L141.76 60.70 L143.07 60.17 L144.38 59.63 L145.69 59.07 L147.00 58.50 L148.32 57.92 L149.63 57.32 L150.94 56.70 L152.25 56.07 L153.56 55.42 L154.88 54.75 L156.19 54.06 L157.50 53.35" stroke="#5e81b5" class="c d"/>
<path d="M157.50 53.35 L158.30 52.91 L159.10 52.46 L159.88 52.01 L160.66 51.55 L161.42 51.09 L162.18 50.63 L162.92 50.17 L163.66 49.70 L164.38 49.24 L165.10 48.76 L165.80 48.29 L166.50 47.81 L167.19 47.33 L167.86 46.85 L168.53 46.36 L169.19 45.87 L169.84 45.38 L170.48 44.88 L171.11 44.38 L171.74 43.88 L172.35 43.38 L172.96 42.87 L173.55 42.36 L174.14 41.84 L174.72 41.33 L175.29 40.81 L175.85 40.28 L176.41 39.76 L176.95 39.23 L177.49 38.69 L178.02 38.16 L178.54 37.62 L179.05 37.07 L179.56 36.53 L180.05 35.98 L180.54 35.43 L181.02 34.87 L181.49 34.31 L181.96 33.75 L182.42 33.19 L182.86 32.62 L183.31 32.05 L183.74 31.47 L184.17 30.89 L184.59 30.31 L185.00 29.73 L185.41 29.14 L185.80 28.55 L186.19 27.95 L186.58 27.36 L186.96 26.75 L187.33 26.15 L187.69 25.54 L188.05 24.93 L188.39 24.32 L188.74 23.70 L189.07 23.08 L189.40 22.46 L189.73 21.83 L190.04 21.20 L190.36 20.57 L190.66 19.94 L190.96 19.30 L191.25 18.66 L191.54 18.01 L191.82 17.36 L192.09 16.71 L192.36 16.06 L192.62 15.40 L192.88 14.74 L193.13 14.08 L193.37 13.42 L193.61 12.75 L193.85 12.08 L194.07 11.40 L194.30 10.73 L194.52 10.05 L194.73 9.37 L194.94 8.68 L195.14 8.00 L195.34 7.31 L195.53 6.62 L195.72 5.92 L195.90 5.23 L196.08 4.53 L196.25 3.83 L196.42 3.13 L196.58 2.42 L196.74 1.72 L196.89 1.01 L197.04 0.30 L197.19 -0.41 L197.33 -1.12 L197.47 -1.84 L197.60 -2.55 L197.73 -3.27 L197.86 -3.99 L197.98 -4.70 L198.09 -5.42 L198.21 -6.14 L198.32 -6.86 L198.42 -7.59 L198.53 -8.31 L198.62 -9.03 L198.72 -9.75 L198.81 -10.47 L198.90 -11.20 L198.98 -11.92 L199.07 -12.64 L199.14 -13.36 L199.22 -14.08 L199.29 -14.80 L199.36 -15.51 L199.43 -16.23 L199.49 -16.94 L199.55 -17.65 L199.61 -18.36 L199.66 -19.07 L199.72 -19.78 L199.77 -20.48 L199.81 -21.18 L199.86 -21.87 L199.90 -22.56 L199.94 -23.25 L199.98 -23.93 L200.02 -24.61 L200.05 -25.29 L200.08 -25.95 L200.11 -26.62 L200.14 -27.27 L200.17 -27.92 L200.19 -28.57 L200.21 -29.20 L200.23 -29.83 L200.25 -30.45 L200.27 -31.07 L200.29 -31.67 L200.30 -32.26 L200.31 -32.85 L200.33 -33.42 L200.34 -33.98 L200.35 -34.53 L200.36 -35.06 L200.36 -35.59 L200.37 -36.10 L200.38 -36.59 L200.38 -37.07 L200.39 -37.53 L200.39 -37.97 L200.39 -38.39 L200.39 -38.79 L200.40 -39.17 L200.40 -39.52 L200.40 -39.85 L200.40 -40.15 L200.40 -40.41 L200.40 -40.63 L200.40 -40.80 L200.40 -40.90" stroke="#5e81b5" class="c"/>
<path d="M14.50 80.90 L15.81 80.74 L17.12 80.57 L18.44 80.40 L19.75 80.23 L21.06 80.06 L22.37 79.88 L23.68 79.71 L25.00 79.53 L26.31 79.35 L27.62 79.17 L28.93 78.99 L30.24 78.81 L31.56 78.62 L32.87 78.44 L34.18 78.25 L35.49 78.06 L36.80 77.86 L38.11 77.67 L39.43 77.47 L40.74 77.28 L42.05 77.08 L43.36 76.87 L44.67 76.67 L45.99 76.46 L47.30 76.26 L48.61 76.04 L49.92 75.83 L51.23 75.62 L52.55 75.40 L53.86 75.18 L55.17 74.96 L56.48 74.73 L57.79 74.51 L59.11 74.28 L60.42 74.05 L61.73 73.81 L63.04 73.58 L64.35 73.34 L65.67 73.09 L66.98 72.85 L68.29 72.60 L69.60 72.35 L70.91 72.09 L72.22 71.84 L73.54 71.58 L74.85 71.31 L76.16 71.05 L77.47 70.78 L78.78 70.50 L80.10 70.22 L81.41 69.94 L82.72 69.66 L84.03 69.37 L85.34 69.08 L86.66 68.78 L87.97 68.48 L89.28 68.18 L90.59 67.87 L91.90 67.56 L93.22 67.24 L94.53 66.92 L95.84 66.59 L97.15 66.26 L98.46 65.92 L99.78 65.58 L101.09 65.23 L102.40 64.88 L103.71 64.52 L105.02 64.16 L106.33 63.79 L107.65 63.42 L108.96 63.03 L110.27 62.65 L111.58 62.25 L112.89 61.85 L114.21 61.44 L115.52 61.03 L116.83 60.60 L118.14 60.17 L119.45 59.73 L120.77 59.29 L122.08 58.83 L123.39 58.37 L124.70 57.89 L126.01 57.41 L127.33 56.91 L128.64 56.41 L129.95 55.90 L131.26 55.37 L132.57 54.83 L133.89 54.29 L135.20 53.72 L136.51 53.15 L137.82 52.56 L139.13 51.96 L140.44 51.34 L141.76 50.71 L143.07 50.06 L144.38 49.39 L145.69 48.71 L147.00 48.01 L148.32 47.29 L149.63 46.54 L150.94 45.78 L152.25 44.99 L153.56 44.17 L154.88 43.33 L156.19 42.47 L157.50 41.57" stroke="#5e81b5" class="c d"/>
<path d="M157.50 41.57 L158.21 41.07 L158.92 40.56 L159.62 40.06 L160.31 39.55 L160.99 39.03 L161.66 38.51 L162.32 37.99 L162.97 37.47 L163.62 36.94 L164.25 36.41 L164.88 35.88 L165.50 35.34 L166.11 34.80 L166.71 34.25 L167.31 33.71 L167.89 33.15 L168.47 32.60 L169.04 32.04 L169.60 31.48 L170.16 30.92 L170.70 30.35 L171.24 29.78 L171.77 29.20 L172.29 28.62 L172.81 28.04 L173.31 27.46 L173.81 26.87 L174.31 26.27 L174.79 25.68 L175.27 25.08 L175.74 24.48 L176.20 23.87 L176.66 23.26 L177.10 22.64 L177.55 22.03 L177.98 21.41 L178.41 20.78 L178.83 20.15 L179.24 19.52 L179.65 18.88 L180.05 18.24 L180.44 17.60 L180.83 16.95 L181.21 16.30 L181.58 15.65 L181.95 14.99 L182.31 14.33 L182.66 13.67 L183.01 13.00 L183.35 12.32 L183.68 11.65 L184.01 10.97 L184.33 10.29 L184.65 9.60 L184.96 8.91 L185.27 8.22 L185.57 7.52 L185.86 6.82 L186.15 6.11 L186.43 5.40 L186.70 4.69 L186.98 3.98 L187.24 3.26 L187.50 2.54 L187.75 1.81 L188.00 1.08 L188.25 0.35 L188.48 -0.38 L188.72 -1.12 L188.95 -1.86 L189.17 -2.61 L189.39 -3.36 L189.60 -4.11 L189.81 -4.86 L190.01 -5.62 L190.21 -6.38 L190.40 -7.15 L190.59 -7.91 L190.78 -8.68 L190.96 -9.45 L191.13 -10.23 L191.30 -11.01 L191.47 -11.79 L191.63 -12.57 L191.79 -13.35 L191.94 -14.14 L192.09 -14.93 L192.24 -15.72 L192.38 -16.52 L192.52 -17.31 L192.65 -18.11 L192.78 -18.91 L192.91 -19.71 L193.03 -20.52 L193.15 -21.32 L193.26 -22.13 L193.37 -22.93 L193.48 -23.74 L193.58 -24.55 L193.68 -25.36 L193.78 -26.17 L193.88 -26.98 L193.97 -27.80 L194.05 -28.61 L194.14 -29.42 L194.22 -30.23 L194.30 -31.05 L194.37 -31.86 L194.45 -32.67 L194.52 -33.48 L194.58 -34.29 L194.65 -35.10 L194.71 -35.90 L194.77 -36.71 L194.83 -37.51 L194.88 -38.31 L194.93 -39.11 L194.98 -39.91 L195.03 -40.70 L195.07 -41.49 L195.11 -42.27 L195.15 -43.06 L195.19 -43.83 L195.23 -44.61 L195.26 -45.38 L195.29 -46.14 L195.32 -46.90 L195.35 -47.65 L195.38 -48.39 L195.40 -49.13 L195.43 -49.86 L195.45 -50.59 L195.47 -51.30 L195.49 -52.01 L195.50 -52.71 L195.52 -53.40 L195.53 -54.08 L195.55 -54.75 L195.56 -55.40 L195.57 -56.05 L195.58 -56.68 L195.59 -57.29 L195.59 -57.90 L195.60 -58.49 L195.61 -59.06 L195.61 -59.61 L195.62 -60.15 L195.62 -60.67 L195.62 -61.16 L195.63 -61.64 L195.63 -62.09 L195.63 -62.52 L195.63 -62.91 L195.63 -63.28 L195.63 -63.61 L195.63 -63.91 L195.63 -64.16 L195.63 -64.35 L195.63 -64.46" stroke="#5e81b5" class="c"/>
<path d="M14.50 75.61 L15.81 75.43 L17.12 75.24 L18.44 75.05 L19.75 74.86 L21.06 74.67 L22.37 74.47 L23.68 74.28 L25.00 74.08 L26.31 73.88 L27.62 73.68 L28.93 73.47 L30.24 73.27 L31.56 73.06 L32.87 72.85 L34.18 72.64 L35.49 72.42 L36.80 72.21 L38.11 71.99 L39.43 71.77 L40.74 71.55 L42.05 71.32 L43.36 71.10 L44.67 70.87 L45.99 70.63 L47.30 70.40 L48.61 70.16 L49.92 69.92 L51.23 69.68 L52.55 69.44 L53.86 69.19 L55.17 68.94 L56.48 68.69 L57.79 68.43 L59.11 68.17 L60.42 67.91 L61.73 67.65 L63.04 67.38 L64.35 67.11 L65.67 66.83 L66.98 66.55 L68.29 66.27 L69.60 65.99 L70.91 65.70 L72.22 65.41 L73.54 65.11 L74.85 64.81 L76.16 64.51 L77.47 64.20 L78.78 63.89 L80.10 63.58 L81.41 63.26 L82.72 62.93 L84.03 62.61 L85.34 62.27 L86.66 61.94 L87.97 61.59 L89.28 61.25 L90.59 60.89 L91.90 60.54 L93.22 60.17 L94.53 59.80 L95.84 59.43 L97.15 59.05 L98.46 58.66 L99.78 58.27 L101.09 57.87 L102.40 57.47 L103.71 57.06 L105.02 56.64 L106.33 56.21 L107.65 55.78 L108.96 55.34 L110.27 54.89 L111.58 54.43 L112.89 53.97 L114.21 53.50 L115.52 53.01 L116.83 52.52 L118.14 52.02 L119.45 51.51 L120.77 50.99 L122.08 50.46 L123.39 49.92 L124.70 49.36 L126.01 48.80 L127.33 48.22 L128.64 47.63 L129.95 47.02 L131.26 46.40 L132.57 45.77 L133.89 45.12 L135.20 44.46 L136.51 43.78 L137.82 43.08 L139.13 42.37 L140.44 41.63 L141.76 40.88 L143.07 40.10 L144.38 39.30 L145.69 38.48 L147.00 37.64 L148.32 36.77 L149.63 35.87 L150.94 34.94 L152.25 33.98 L153.56 32.99 L154.88 31.96 L156.19 30.90 L157.50 29.79" stroke="#5e81b5" class="c d"/>
<path d="M157.50 29.79 L158.14 29.23 L158.78 28.67 L159.41 28.11 L160.03 27.54 L160.64 26.97 L161.24 26.39 L161.84 25.81 L162.42 25.23 L163.00 24.65 L163.58 24.06 L164.14 23.46 L164.70 22.86 L165.25 22.26 L165.79 21.66 L166.33 21.05 L166.85 20.44 L167.37 19.82 L167.89 19.20 L168.39 18.58 L168.89 17.95 L169.38 17.32 L169.87 16.69 L170.34 16.05 L170.81 15.40 L171.28 14.76 L171.73 14.11 L172.18 13.45 L172.63 12.79 L173.06 12.13 L173.49 11.47 L173.91 10.80 L174.33 10.12 L174.74 9.44 L175.14 8.76 L175.54 8.07 L175.93 7.38 L176.32 6.69 L176.69 5.99 L177.07 5.29 L177.43 4.58 L177.79 3.87 L178.15 3.16 L178.49 2.44 L178.83 1.72 L179.17 0.99 L179.50 0.26 L179.82 -0.48 L180.14 -1.22 L180.46 -1.96 L180.76 -2.71 L181.06 -3.46 L181.36 -4.21 L181.65 -4.97 L181.94 -5.73 L182.22 -6.50 L182.49 -7.27 L182.76 -8.05 L183.02 -8.83 L183.28 -9.61 L183.54 -10.39 L183.78 -11.19 L184.03 -11.98 L184.27 -12.78 L184.50 -13.58 L184.73 -14.39 L184.95 -15.20 L185.17 -16.01 L185.39 -16.83 L185.60 -17.65 L185.80 -18.47 L186.00 -19.30 L186.20 -20.13 L186.39 -20.97 L186.58 -21.80 L186.76 -22.65 L186.94 -23.49 L187.11 -24.34 L187.28 -25.19 L187.45 -26.05 L187.61 -26.90 L187.77 -27.76 L187.92 -28.63 L188.07 -29.50 L188.22 -30.37 L188.36 -31.24 L188.50 -32.11 L188.63 -32.99 L188.76 -33.87 L188.89 -34.75 L189.02 -35.64 L189.14 -36.52 L189.25 -37.41 L189.37 -38.30 L189.48 -39.19 L189.58 -40.09 L189.69 -40.98 L189.79 -41.88 L189.88 -42.78 L189.98 -43.68 L190.07 -44.58 L190.15 -45.48 L190.24 -46.38 L190.32 -47.28 L190.40 -48.19 L190.48 -49.09 L190.55 -49.99 L190.62 -50.90 L190.69 -51.80 L190.75 -52.70 L190.82 -53.60 L190.88 -54.50 L190.93 -55.40 L190.99 -56.29 L191.04 -57.19 L191.09 -58.08 L191.14 -58.97 L191.19 -59.85 L191.23 -60.74 L191.27 -61.62 L191.31 -62.50 L191.35 -63.37 L191.39 -64.24 L191.42 -65.10 L191.45 -65.96 L191.48 -66.82 L191.51 -67.67 L191.54 -68.51 L191.57 -69.34 L191.59 -70.17 L191.61 -70.99 L191.63 -71.81 L191.65 -72.61 L191.67 -73.41 L191.69 -74.19 L191.70 -74.97 L191.72 -75.73 L191.73 -76.49 L191.74 -77.23 L191.75 -77.96 L191.76 -78.67 L191.77 -79.37 L191.78 -80.06 L191.79 -80.73 L191.79 -81.38 L191.80 -82.02 L191.80 -82.64 L191.81 -83.23 L191.81 -83.81 L191.81 -84.36 L191.81 -84.89 L191.82 -85.39 L191.82 -85.86 L191.82 -86.30 L191.82 -86.71 L191.82 -87.08 L191.82 -87.41 L191.82 -87.69 L191.82 -87.90 L191.82 -88.02" stroke="#5e81b5" class="c"/>
<path d="M14.50 70.53 L15.81 70.32 L17.12 70.12 L18.44 69.91 L19.75 69.70 L21.06 69.49 L22.37 69.27 L23.68 69.05 L25.00 68.84 L26.31 68.62 L27.62 68.39 L28.93 68.17 L30.24 67.94 L31.56 67.71 L32.87 67.48 L34.18 67.24 L35.49 67.01 L36.80 66.77 L38.11 66.53 L39.43 66.28 L40.74 66.04 L42.05 65.79 L43.36 65.54 L44.67 65.28 L45.99 65.02 L47.30 64.76 L48.61 64.50 L49.92 64.24 L51.23 63.97 L52.55 63.70 L53.86 63.42 L55.17 63.14 L56.48 62.86 L57.79 62.58 L59.11 62.29 L60.42 62.00 L61.73 61.70 L63.04 61.40 L64.35 61.10 L65.67 60.80 L66.98 60.49 L68.29 60.17 L69.60 59.85 L70.91 59.53 L72.22 59.21 L73.54 58.88 L74.85 58.54 L76.16 58.20 L77.47 57.86 L78.78 57.51 L80.10 57.16 L81.41 56.80 L82.72 56.44 L84.03 56.07 L85.34 55.69 L86.66 55.32 L87.97 54.93 L89.28 54.54 L90.59 54.14 L91.90 53.74 L93.22 53.33 L94.53 52.92 L95.84 52.49 L97.15 52.07 L98.46 51.63 L99.78 51.19 L101.09 50.74 L102.40 50.28 L103.71 49.81 L105.02 49.34 L106.33 48.86 L107.65 48.36 L108.96 47.86 L110.27 47.36 L111.58 46.84 L112.89 46.31 L114.21 45.77 L115.52 45.22 L116.83 44.66 L118.14 44.09 L119.45 43.50 L120.77 42.91 L122.08 42.30 L123.39 41.67 L124.70 41.04 L126.01 40.39 L127.33 39.72 L128.64 39.04 L129.95 38.34 L131.26 37.63 L132.57 36.90 L133.89 36.15 L135.20 35.38 L136.51 34.59 L137.82 33.77 L139.13 32.94 L140.44 32.08 L141.76 31.20 L143.07 30.29 L144.38 29.35 L145.69 28.39 L147.00 27.39 L148.32 26.36 L149.63 25.29 L150.94 24.19 L152.25 23.04 L153.56 21.86 L154.88 20.63 L156.19 19.34 L157.50 18.01" stroke="#5e81b5" class="c d"/>
<path d="M14.50 65.63 L15.81 65.41 L17.12 65.18 L18.44 64.96 L19.75 64.73 L21.06 64.49 L22.37 64.26 L23.68 64.02 L25.00 63.78 L26.31 63.54 L27.62 63.30 L28.93 63.05 L30.24 62.80 L31.56 62.55 L32.87 62.30 L34.18 62.04 L35.49 61.78 L36.80 61.52 L38.11 61.26 L39.43 60.99 L40.74 60.72 L42.05 60.45 L43.36 60.17 L44.67 59.89 L45.99 59.61 L47.30 59.33 L48.61 59.04 L49.92 58.75 L51.23 58.45 L52.55 58.15 L53.86 57.85 L55.17 57.54 L56.48 57.23 L57.79 56.92 L59.11 56.60 L60.42 56.28 L61.73 55.96 L63.04 55.63 L64.35 55.30 L65.67 54.96 L66.98 54.62 L68.29 54.27 L69.60 53.92 L70.91 53.57 L72.22 53.21 L73.54 52.84 L74.85 52.47 L76.16 52.10 L77.47 51.72 L78.78 51.33 L80.10 50.94 L81.41 50.55 L82.72 50.14 L84.03 49.74 L85.34 49.32 L86.66 48.90 L87.97 48.47 L89.28 48.04 L90.59 47.60 L91.90 47.15 L93.22 46.70 L94.53 46.24 L95.84 45.77 L97.15 45.29 L98.46 44.80 L99.78 44.31 L101.09 43.81 L102.40 43.29 L103.71 42.77 L105.02 42.24 L106.33 41.70 L107.65 41.15 L108.96 40.59 L110.27 40.02 L111.58 39.44 L112.89 38.85 L114.21 38.24 L115.52 37.62 L116.83 36.99 L118.14 36.35 L119.45 35.69 L120.77 35.02 L122.08 34.33 L123.39 33.63 L124.70 32.91 L126.01 32.17 L127.33 31.41 L128.64 30.64 L129.95 29.85 L131.26 29.04 L132.57 28.20 L133.89 27.34 L135.20 26.46 L136.51 25.56 L137.82 24.63 L139.13 23.67 L140.44 22.68 L141.76 21.67 L143.07 20.62 L144.38 19.53 L145.69 18.41 L147.00 17.25 L148.32 16.05 L149.63 14.81 L150.94 13.52 L152.25 12.18 L153.56 10.78 L154.88 9.33 L156.19 7.81 L157.50 6.23" stroke="#5e81b5" class="c d"/>
<path d="M14.50 60.90 L15.81 60.66 L17.12 60.42 L18.44 60.17 L19.75 59.92 L21.06 59.67 L22.37 59.42 L23.68 59.16 L25.00 58.90 L26.31 58.64 L27.62 58.38 L28.93 58.11 L30.24 57.84 L31.56 57.57 L32.87 57.29 L34.18 57.02 L35.49 56.73 L36.80 56.45 L38.11 56.16 L39.43 55.87 L40.74 55.58 L42.05 55.28 L43.36 54.98 L44.67 54.68 L45.99 54.37 L47.30 54.06 L48.61 53.75 L49.92 53.43 L51.23 53.11 L52.55 52.79 L53.86 52.46 L55.17 52.12 L56.48 51.79 L57.79 51.45 L59.11 51.10 L60.42 50.75 L61.73 50.40 L63.04 50.04 L64.35 49.68 L65.67 49.31 L66.98 48.93 L68.29 48.56 L69.60 48.17 L70.91 47.79 L72.22 47.39 L73.54 46.99 L74.85 46.59 L76.16 46.18 L77.47 45.76 L78.78 45.34 L80.10 44.91 L81.41 44.48 L82.72 44.04 L84.03 43.59 L85.34 43.14 L86.66 42.67 L87.97 42.20 L89.28 41.73 L90.59 41.24 L91.90 40.75 L93.22 40.25 L94.53 39.74 L95.84 39.23 L97.15 38.70 L98.46 38.16 L99.78 37.62 L101.09 37.06 L102.40 36.50 L103.71 35.93 L105.02 35.34 L106.33 34.74 L107.65 34.13 L108.96 33.51 L110.27 32.88 L111.58 32.23 L112.89 31.58 L114.21 30.90 L115.52 30.22 L116.83 29.51 L118.14 28.80 L119.45 28.06 L120.77 27.31 L122.08 26.54 L123.39 25.76 L124.70 24.95 L126.01 24.13 L127.33 23.28 L128.64 22.41 L129.95 21.52 L131.26 20.61 L132.57 19.67 L133.89 18.71 L135.20 17.71 L136.51 16.69 L137.82 15.64 L139.13 14.55 L140.44 13.43 L141.76 12.27 L143.07 11.08 L144.38 9.84 L145.69 8.56 L147.00 7.23 L148.32 5.86 L149.63 4.42 L150.94 2.94 L152.25 1.38 L153.56 -0.23 L154.88 -1.93 L156.19 -3.70 L157.50 -5.55" stroke="#5e81b5" class="c d"/>
<path d="M14.50 56.33 L15.81 56.07 L17.12 55.80 L18.44 55.54 L19.75 55.27 L21.06 55.00 L22.37 54.73 L23.68 54.45 L25.00 54.18 L26.31 53.89 L27.62 53.61 L28.93 53.32 L30.24 53.03 L31.56 52.74 L32.87 52.44 L34.18 52.14 L35.49 51.84 L36.80 51.54 L38.11 51.23 L39.43 50.91 L40.74 50.60 L42.05 50.28 L43.36 49.95 L44.67 49.63 L45.99 49.30 L47.30 48.96 L48.61 48.62 L49.92 48.28 L51.23 47.93 L52.55 47.58 L53.86 47.23 L55.17 46.87 L56.48 46.50 L57.79 46.14 L59.11 45.76 L60.42 45.38 L61.73 45.00 L63.04 44.61 L64.35 44.22 L65.67 43.82 L66.98 43.42 L68.29 43.01 L69.60 42.59 L70.91 42.17 L72.22 41.75 L73.54 41.31 L74.85 40.88 L76.16 40.43 L77.47 39.98 L78.78 39.52 L80.10 39.06 L81.41 38.58 L82.72 38.10 L84.03 37.62 L85.34 37.12 L86.66 36.62 L87.97 36.11 L89.28 35.59 L90.59 35.06 L91.90 34.53 L93.22 33.98 L94.53 33.42 L95.84 32.86 L97.15 32.29 L98.46 31.70 L99.78 31.10 L101.09 30.50 L102.40 29.88 L103.71 29.25 L105.02 28.61 L106.33 27.95 L107.65 27.29 L108.96 26.61 L110.27 25.91 L111.58 25.20 L112.89 24.48 L114.21 23.74 L115.52 22.98 L116.83 22.21 L118.14 21.42 L119.45 20.61 L120.77 19.78 L122.08 18.93 L123.39 18.06 L124.70 17.17 L126.01 16.25 L127.33 15.32 L128.64 14.35 L129.95 13.36 L131.26 12.35 L132.57 11.30 L133.89 10.22 L135.20 9.11 L136.51 7.97 L137.82 6.79 L139.13 5.57 L140.44 4.32 L141.76 3.02 L143.07 1.67 L144.38 0.27 L145.69 -1.17 L147.00 -2.68 L148.32 -4.24 L149.63 -5.87 L150.94 -7.57 L152.25 -9.34 L153.56 -11.20 L154.88 -13.14 L156.19 -15.18 L157.50 -17.33" stroke="#5e81b5" class="c d"/>
<path d="M14.50 51.89 L15.81 51.61 L17.12 51.33 L18.44 51.05 L19.75 50.76 L21.06 50.47 L22.37 50.18 L23.68 49.89 L25.00 49.59 L26.31 49.29 L27.62 48.98 L28.93 48.68 L30.24 48.37 L31.56 48.05 L32.87 47.74 L34.18 47.42 L35.49 47.09 L36.80 46.77 L38.11 46.43 L39.43 46.10 L40.74 45.76 L42.05 45.42 L43.36 45.07 L44.67 44.72 L45.99 44.37 L47.30 44.01 L48.61 43.64 L49.92 43.28 L51.23 42.91 L52.55 42.53 L53.86 42.15 L55.17 41.76 L56.48 41.37 L57.79 40.97 L59.11 40.57 L60.42 40.17 L61.73 39.76 L63.04 39.34 L64.35 38.92 L65.67 38.49 L66.98 38.05 L68.29 37.61 L69.60 37.17 L70.91 36.71 L72.22 36.26 L73.54 35.79 L74.85 35.32 L76.16 34.84 L77.47 34.35 L78.78 33.86 L80.10 33.35 L81.41 32.84 L82.72 32.33 L84.03 31.80 L85.34 31.27 L86.66 30.72 L87.97 30.17 L89.28 29.61 L90.59 29.04 L91.90 28.46 L93.22 27.87 L94.53 27.27 L95.84 26.65 L97.15 26.03 L98.46 25.40 L99.78 24.75 L101.09 24.09 L102.40 23.42 L103.71 22.74 L105.02 22.04 L106.33 21.33 L107.65 20.60 L108.96 19.86 L110.27 19.10 L111.58 18.33 L112.89 17.54 L114.21 16.73 L115.52 15.91 L116.83 15.06 L118.14 14.20 L119.45 13.31 L120.77 12.40 L122.08 11.47 L123.39 10.52 L124.70 9.54 L126.01 8.54 L127.33 7.50 L128.64 6.44 L129.95 5.35 L131.26 4.23 L132.57 3.08 L133.89 1.89 L135.20 0.66 L136.51 -0.61 L137.82 -1.91 L139.13 -3.27 L140.44 -4.67 L141.76 -6.11 L143.07 -7.62 L144.38 -9.18 L145.69 -10.80 L147.00 -12.48 L148.32 -14.24 L149.63 -16.08 L150.94 -17.99 L152.25 -20.00 L153.56 -22.11 L154.88 -24.32 L156.19 -26.65 L157.50 -29.11" stroke="#5e81b5" class="c d"/>
<path d="M14.50 47.57 L15.81 47.28 L17.12 46.98 L18.44 46.68 L19.75 46.38 L21.06 46.07 L22.37 45.76 L23.68 45.45 L25.00 45.13 L26.31 44.81 L27.62 44.49 L28.93 44.16 L30.24 43.83 L31.56 43.50 L32.87 43.16 L34.18 42.82 L35.49 42.48 L36.80 42.13 L38.11 41.77 L39.43 41.42 L40.74 41.06 L42.05 40.69 L43.36 40.32 L44.67 39.95 L45.99 39.57 L47.30 39.19 L48.61 38.80 L49.92 38.41 L51.23 38.01 L52.55 37.61 L53.86 37.20 L55.17 36.79 L56.48 36.38 L57.79 35.95 L59.11 35.52 L60.42 35.09 L61.73 34.65 L63.04 34.20 L64.35 33.75 L65.67 33.30 L66.98 32.83 L68.29 32.36 L69.60 31.88 L70.91 31.40 L72.22 30.91 L73.54 30.41 L74.85 29.90 L76.16 29.39 L77.47 28.86 L78.78 28.34 L80.10 27.80 L81.41 27.25 L82.72 26.69 L84.03 26.13 L85.34 25.56 L86.66 24.97 L87.97 24.38 L89.28 23.78 L90.59 23.16 L91.90 22.54 L93.22 21.90 L94.53 21.26 L95.84 20.60 L97.15 19.93 L98.46 19.24 L99.78 18.55 L101.09 17.84 L102.40 17.11 L103.71 16.38 L105.02 15.62 L106.33 14.85 L107.65 14.07 L108.96 13.27 L110.27 12.45 L111.58 11.61 L112.89 10.75 L114.21 9.88 L115.52 8.98 L116.83 8.07 L118.14 7.13 L119.45 6.16 L120.77 5.18 L122.08 4.16 L123.39 3.13 L124.70 2.06 L126.01 0.97 L127.33 -0.16 L128.64 -1.32 L129.95 -2.51 L131.26 -3.74 L132.57 -5.00 L133.89 -6.31 L135.20 -7.66 L136.51 -9.05 L137.82 -10.49 L139.13 -11.98 L140.44 -13.52 L141.76 -15.12 L143.07 -16.78 L144.38 -18.51 L145.69 -20.31 L147.00 -22.19 L148.32 -24.15 L149.63 -26.19 L150.94 -28.34 L152.25 -30.59 L153.56 -32.96 L154.88 -35.46 L156.19 -38.10 L157.50 -40.90" stroke="#5e81b5" class="c d"/>
<path d="M14.50 43.37 L15.81 43.06 L17.12 42.75 L18.44 42.43 L19.75 42.11 L21.06 41.78 L22.37 41.46 L23.68 41.13 L25.00 40.79 L26.31 40.45 L27.62 40.11 L28.93 39.76 L30.24 39.42 L31.56 39.06 L32.87 38.71 L34.18 38.34 L35.49 37.98 L36.80 37.61 L38.11 37.24 L39.43 36.86 L40.74 36.48 L42.05 36.09 L43.36 35.70 L44.67 35.30 L45.99 34.90 L47.30 34.49 L48.61 34.08 L49.92 33.67 L51.23 33.25 L52.55 32.82 L53.86 32.39 L55.17 31.95 L56.48 31.51 L57.79 31.06 L59.11 30.60 L60.42 30.14 L61.73 29.67 L63.04 29.20 L64.35 28.72 L65.67 28.23 L66.98 27.74 L68.29 27.24 L69.60 26.73 L70.91 26.21 L72.22 25.69 L73.54 25.16 L74.85 24.62 L76.16 24.07 L77.47 23.51 L78.78 22.95 L80.10 22.37 L81.41 21.79 L82.72 21.20 L84.03 20.60 L85.34 19.98 L86.66 19.36 L87.97 18.73 L89.28 18.08 L90.59 17.43 L91.90 16.76 L93.22 16.08 L94.53 15.39 L95.84 14.68 L97.15 13.96 L98.46 13.23 L99.78 12.48 L101.09 11.72 L102.40 10.95 L103.71 10.15 L105.02 9.35 L106.33 8.52 L107.65 7.68 L108.96 6.81 L110.27 5.93 L111.58 5.03 L112.89 4.11 L114.21 3.17 L115.52 2.20 L116.83 1.21 L118.14 0.20 L119.45 -0.84 L120.77 -1.91 L122.08 -3.00 L123.39 -4.12 L124.70 -5.28 L126.01 -6.47 L127.33 -7.69 L128.64 -8.94 L129.95 -10.24 L131.26 -11.57 L132.57 -12.95 L133.89 -14.37 L135.20 -15.84 L136.51 -17.36 L137.82 -18.93 L139.13 -20.56 L140.44 -22.25 L141.76 -24.01 L143.07 -25.84 L144.38 -27.74 L145.69 -29.72 L147.00 -31.79 L148.32 -33.96 L149.63 -36.23 L150.94 -38.61 L152.25 -41.12 L153.56 -43.76 L154.88 -46.56 L156.19 -49.52 L157.50 -52.68" stroke="#5e81b5" class="c d"/>
<path d="M14.50 39.28 L15.81 38.95 L17.12 38.62 L18.44 38.29 L19.75 37.95 L21.06 37.61 L22.37 37.26 L23.68 36.91 L25.00 36.56 L26.31 36.20 L27.62 35.84 L28.93 35.48 L30.24 35.11 L31.56 34.74 L32.87 34.36 L34.18 33.98 L35.49 33.59 L36.80 33.20 L38.11 32.81 L39.43 32.41 L40.74 32.01 L42.05 31.60 L43.36 31.19 L44.67 30.77 L45.99 30.34 L47.30 29.91 L48.61 29.48 L49.92 29.04 L51.23 28.60 L52.55 28.14 L53.86 27.69 L55.17 27.23 L56.48 26.76 L57.79 26.28 L59.11 25.80 L60.42 25.31 L61.73 24.82 L63.04 24.31 L64.35 23.81 L65.67 23.29 L66.98 22.77 L68.29 22.24 L69.60 21.70 L70.91 21.15 L72.22 20.59 L73.54 20.03 L74.85 19.46 L76.16 18.88 L77.47 18.29 L78.78 17.69 L80.10 17.08 L81.41 16.46 L82.72 15.83 L84.03 15.19 L85.34 14.54 L86.66 13.87 L87.97 13.20 L89.28 12.52 L90.59 11.82 L91.90 11.11 L93.22 10.38 L94.53 9.65 L95.84 8.89 L97.15 8.13 L98.46 7.35 L99.78 6.55 L101.09 5.74 L102.40 4.91 L103.71 4.06 L105.02 3.20 L106.33 2.32 L107.65 1.42 L108.96 0.49 L110.27 -0.45 L111.58 -1.41 L112.89 -2.40 L114.21 -3.41 L115.52 -4.45 L116.83 -5.51 L118.14 -6.60 L119.45 -7.71 L120.77 -8.86 L122.08 -10.03 L123.39 -11.24 L124.70 -12.49 L126.01 -13.76 L127.33 -15.08 L128.64 -16.44 L129.95 -17.84 L131.26 -19.28 L132.57 -20.77 L133.89 -22.31 L135.20 -23.90 L136.51 -25.55 L137.82 -27.26 L139.13 -29.03 L140.44 -30.87 L141.76 -32.78 L143.07 -34.78 L144.38 -36.86 L145.69 -39.03 L147.00 -41.30 L148.32 -43.68 L149.63 -46.18 L150.94 -48.81 L152.25 -51.58 L153.56 -54.52 L154.88 -57.62 L156.19 -60.93 L157.50 -64.46" stroke="#5e81b5" class="c d"/>
<path d="M14.50 35.29 L15.81 34.95 L17.12 34.60 L18.44 34.25 L19.75 33.89 L21.06 33.53 L22.37 33.17 L23.68 32.80 L25.00 32.43 L26.31 32.06 L27.62 31.68 L28.93 31.30 L30.24 30.91 L31.56 30.52 L32.87 30.12 L34.18 29.72 L35.49 29.31 L36.80 28.90 L38.11 28.49 L39.43 28.07 L40.74 27.65 L42.05 27.22 L43.36 26.78 L44.67 26.34 L45.99 25.89 L47.30 25.44 L48.61 24.99 L49.92 24.52 L51.23 24.05 L52.55 23.58 L53.86 23.10 L55.17 22.61 L56.48 22.12 L57.79 21.61 L59.11 21.11 L60.42 20.59 L61.73 20.07 L63.04 19.54 L64.35 19.00 L65.67 18.46 L66.98 17.91 L68.29 17.35 L69.60 16.78 L70.91 16.20 L72.22 15.61 L73.54 15.02 L74.85 14.41 L76.16 13.80 L77.47 13.18 L78.78 12.54 L80.10 11.90 L81.41 11.24 L82.72 10.58 L84.03 9.90 L85.34 9.21 L86.66 8.51 L87.97 7.79 L89.28 7.07 L90.59 6.33 L91.90 5.57 L93.22 4.81 L94.53 4.03 L95.84 3.23 L97.15 2.42 L98.46 1.59 L99.78 0.74 L101.09 -0.12 L102.40 -1.00 L103.71 -1.90 L105.02 -2.82 L106.33 -3.76 L107.65 -4.72 L108.96 -5.70 L110.27 -6.71 L111.58 -7.73 L112.89 -8.79 L114.21 -9.86 L115.52 -10.97 L116.83 -12.10 L118.14 -13.26 L119.45 -14.46 L120.77 -15.68 L122.08 -16.94 L123.39 -18.24 L124.70 -19.57 L126.01 -20.94 L127.33 -22.35 L128.64 -23.81 L129.95 -25.31 L131.26 -26.86 L132.57 -28.46 L133.89 -30.12 L135.20 -31.84 L136.51 -33.62 L137.82 -35.46 L139.13 -37.38 L140.44 -39.37 L141.76 -41.45 L143.07 -43.61 L144.38 -45.87 L145.69 -48.24 L147.00 -50.72 L148.32 -53.32 L149.63 -56.05 L150.94 -58.94 L152.25 -61.99 L153.56 -65.22 L154.88 -68.65 L156.19 -72.32 L157.50 -76.24" stroke="#5e81b5" class="c d"/>
<path d="M14.50 31.39 L15.81 31.03 L17.12 30.67 L18.44 30.30 L19.75 29.93 L21.06 29.55 L22.37 29.17 L23.68 28.79 L25.00 28.40 L26.31 28.00 L27.62 27.61 L28.93 27.21 L30.24 26.80 L31.56 26.39 L32.87 25.98 L34.18 25.56 L35.49 25.13 L36.80 24.70 L38.11 24.27 L39.43 23.83 L40.74 23.38 L42.05 22.93 L43.36 22.47 L44.67 22.01 L45.99 21.54 L47.30 21.07 L48.61 20.59 L49.92 20.10 L51.23 19.61 L52.55 19.11 L53.86 18.61 L55.17 18.10 L56.48 17.58 L57.79 17.05 L59.11 16.52 L60.42 15.98 L61.73 15.43 L63.04 14.87 L64.35 14.31 L65.67 13.73 L66.98 13.15 L68.29 12.56 L69.60 11.97 L70.91 11.36 L72.22 10.74 L73.54 10.11 L74.85 9.48 L76.16 8.83 L77.47 8.17 L78.78 7.51 L80.10 6.83 L81.41 6.14 L82.72 5.43 L84.03 4.72 L85.34 3.99 L86.66 3.25 L87.97 2.50 L89.28 1.73 L90.59 0.95 L91.90 0.16 L93.22 -0.65 L94.53 -1.48 L95.84 -2.32 L97.15 -3.18 L98.46 -4.06 L99.78 -4.95 L101.09 -5.87 L102.40 -6.80 L103.71 -7.75 L105.02 -8.73 L106.33 -9.72 L107.65 -10.74 L108.96 -11.78 L110.27 -12.84 L111.58 -13.94 L112.89 -15.05 L114.21 -16.20 L115.52 -17.37 L116.83 -18.58 L118.14 -19.81 L119.45 -21.08 L120.77 -22.39 L122.08 -23.73 L123.39 -25.11 L124.70 -26.53 L126.01 -27.99 L127.33 -29.50 L128.64 -31.06 L129.95 -32.66 L131.26 -34.32 L132.57 -36.04 L133.89 -37.82 L135.20 -39.66 L136.51 -41.57 L137.82 -43.56 L139.13 -45.62 L140.44 -47.77 L141.76 -50.01 L143.07 -52.35 L144.38 -54.79 L145.69 -57.35 L147.00 -60.04 L148.32 -62.87 L149.63 -65.85 L150.94 -68.99 L152.25 -72.33 L153.56 -75.87 L154.88 -79.64 L156.19 -83.68 L157.50 -88.02" stroke="#5e81b5" class="c d"/>
<path d="M14.50 27.58 L15.81 27.20 L17.12 26.82 L18.44 26.44 L19.75 26.05 L21.06 25.65 L22.37 25.26 L23.68 24.86 L25.00 24.45 L26.31 24.04 L27.62 23.63 L28.93 23.21 L30.24 22.78 L31.56 22.36 L32.87 21.92 L34.18 21.48 L35.49 21.04 L36.80 20.59 L38.11 20.13 L39.43 19.67 L40.74 19.21 L42.05 18.74 L43.36 18.26 L44.67 17.78 L45.99 17.29 L47.30 16.79 L48.61 16.29 L49.92 15.78 L51.23 15.27 L52.55 14.74 L53.86 14.21 L55.17 13.68 L56.48 13.14 L57.79 12.58 L59.11 12.03 L60.42 11.46 L61.73 10.88 L63.04 10.30 L64.35 9.71 L65.67 9.11 L66.98 8.50 L68.29 7.88 L69.60 7.25 L70.91 6.62 L72.22 5.97 L73.54 5.31 L74.85 4.64 L76.16 3.96 L77.47 3.27 L78.78 2.57 L80.10 1.86 L81.41 1.13 L82.72 0.39 L84.03 -0.36 L85.34 -1.12 L86.66 -1.90 L87.97 -2.69 L89.28 -3.50 L90.59 -4.32 L91.90 -5.16 L93.22 -6.01 L94.53 -6.88 L95.84 -7.77 L97.15 -8.67 L98.46 -9.60 L99.78 -10.54 L101.09 -11.50 L102.40 -12.49 L103.71 -13.49 L105.02 -14.52 L106.33 -15.57 L107.65 -16.65 L108.96 -17.75 L110.27 -18.87 L111.58 -20.03 L112.89 -21.21 L114.21 -22.42 L115.52 -23.66 L116.83 -24.94 L118.14 -26.25 L119.45 -27.60 L120.77 -28.98 L122.08 -30.40 L123.39 -31.87 L124.70 -33.38 L126.01 -34.93 L127.33 -36.54 L128.64 -38.20 L129.95 -39.91 L131.26 -41.68 L132.57 -43.51 L133.89 -45.41 L135.20 -47.38 L136.51 -49.42 L137.82 -51.54 L139.13 -53.76 L140.44 -56.06 L141.76 -58.47 L143.07 -60.98 L144.38 -63.61 L145.69 -66.37 L147.00 -69.28 L148.32 -72.33 L149.63 -75.56 L150.94 -78.98 L152.25 -82.61 L153.56 -86.47 L154.88 -90.60 L156.19 -95.03 L157.50 -99.80" stroke="#5e81b5" class="c d"/>
<path d="M14.50 23.84 L15.81 23.45 L17.12 23.05 L18.44 22.65 L19.75 22.25 L21.06 21.84 L22.37 21.43 L23.68 21.01 L25.00 20.59 L26.31 20.16 L27.62 19.73 L28.93 19.29 L30.24 18.85 L31.56 18.40 L32.87 17.95 L34.18 17.49 L35.49 17.03 L36.80 16.56 L38.11 16.09 L39.43 15.61 L40.74 15.12 L42.05 14.63 L43.36 14.13 L44.67 13.63 L45.99 13.12 L47.30 12.60 L48.61 12.08 L49.92 11.55 L51.23 11.01 L52.55 10.46 L53.86 9.91 L55.17 9.35 L56.48 8.78 L57.79 8.21 L59.11 7.62 L60.42 7.03 L61.73 6.43 L63.04 5.82 L64.35 5.20 L65.67 4.57 L66.98 3.94 L68.29 3.29 L69.60 2.63 L70.91 1.97 L72.22 1.29 L73.54 0.60 L74.85 -0.10 L76.16 -0.81 L77.47 -1.53 L78.78 -2.27 L80.10 -3.01 L81.41 -3.77 L82.72 -4.55 L84.03 -5.33 L85.34 -6.14 L86.66 -6.95 L87.97 -7.78 L89.28 -8.63 L90.59 -9.49 L91.90 -10.37 L93.22 -11.26 L94.53 -12.18 L95.84 -13.11 L97.15 -14.06 L98.46 -15.03 L99.78 -16.02 L101.09 -17.04 L102.40 -18.07 L103.71 -19.13 L105.02 -20.21 L106.33 -21.32 L107.65 -22.45 L108.96 -23.61 L110.27 -24.79 L111.58 -26.01 L112.89 -27.26 L114.21 -28.53 L115.52 -29.85 L116.83 -31.19 L118.14 -32.58 L119.45 -34.00 L120.77 -35.46 L122.08 -36.97 L123.39 -38.52 L124.70 -40.12 L126.01 -41.77 L127.33 -43.47 L128.64 -45.23 L129.95 -47.04 L131.26 -48.92 L132.57 -50.87 L133.89 -52.89 L135.20 -54.99 L136.51 -57.16 L137.82 -59.43 L139.13 -61.79 L140.44 -64.25 L141.76 -66.83 L143.07 -69.52 L144.38 -72.34 L145.69 -75.31 L147.00 -78.43 L148.32 -81.72 L149.63 -85.20 L150.94 -88.90 L152.25 -92.83 L153.56 -97.02 L154.88 -101.51 L156.19 -106.35 L157.50 -111.58" stroke="#5e81b5" class="c d"/>
<path d="M14.50 160.96 L15.40 160.95 L16.30 160.93 L17.20 160.92 L18.10 160.91 L19.00 160.89 L19.90 160.88 L20.80 160.87 L21.69 160.86 L22.59 160.84 L23.49 160.83 L24.39 160.82 L25.29 160.81 L26.19 160.79 L27.09 160.78 L27.99 160.77 L28.89 160.76 L29.79 160.75 L30.69 160.73 L31.59 160.72 L32.49 160.71 L33.39 160.70 L34.29 160.69 L35.19 160.67 L36.08 160.66 L36.98 160.65 L37.88 160.64 L38.78 160.63 L39.68 160.61 L40.58 160.60 L41.48 160.59 L42.38 160.58 L43.28 160.57 L44.18 160.56 L45.08 160.55 L45.98 160.53 L46.88 160.52 L47.78 160.51 L48.68 160.50 L49.58 160.49 L50.47 160.48 L51.37 160.47 L52.27 160.46 L53.17 160.45 L54.07 160.43 L54.97 160.42 L55.87 160.41 L56.77 160.40 L57.67 160.39 L58.57 160.38 L59.47 160.37 L60.37 160.36 L61.27 160.35 L62.17 160.34 L63.07 160.33 L63.97 160.32 L64.86 160.31 L65.76 160.30 L66.66 160.28 L67.56 160.27 L68.46 160.26 L69.36 160.25 L70.26 160.24 L71.16 160.23 L72.06 160.22 L72.96 160.21 L73.86 160.20 L74.76 160.19 L75.66 160.18 L76.56 160.17 L77.46 160.16 L78.36 160.15 L79.25 160.14 L80.15 160.13 L81.05 160.12 L81.95 160.11 L82.85 160.10 L83.75 160.09 L84.65 160.08 L85.55 160.07 L86.45 160.06 L87.35 160.05 L88.25 160.04 L89.15 160.03 L90.05 160.02 L90.95 160.02 L91.85 160.01 L92.75 160.00 L93.64 159.99 L94.54 159.98 L95.44 159.97 L96.34 159.96 L97.24 159.95 L98.14 159.94 L99.04 159.93 L99.94 159.92 L100.84 159.91 L101.74 159.90 L102.64 159.89 L103.54 159.88 L104.44 159.88 L105.34 159.87 L106.24 159.86 L107.14 159.85 L108.03 159.84 L108.93 159.83 L109.83 159.82 L110.73 159.81 L111.63 159.80 L112.53 159.79 L113.43 159.79 L114.33 159.78 L115.23 159.77 L116.13 159.76 L117.03 159.75 L117.93 159.74 L118.83 159.73 L119.73 159.72 L120.63 159.72 L121.53 159.71 L122.42 159.70 L123.32 159.69 L124.22 159.68 L125.12 159.67 L126.02 159.66 L126.92 159.66 L127.82 159.65 L128.72 159.64 L129.62 159.63 L130.52 159.62 L131.42 159.61 L132.32 159.61 L133.22 159.60 L134.12 159.59 L135.02 159.58 L135.92 159.57 L136.81 159.56 L137.71 159.56 L138.61 159.55 L139.51 159.54 L140.41 159.53 L141.31 159.52 L142.21 159.52 L143.11 159.51 L144.01 159.50 L144.91 159.49 L145.81 159.48 L146.71 159.48 L147.61 159.47 L148.51 159.46 L149.41 159.45 L150.31 159.44 L151.20 159.44 L152.10 159.43 L153.00 159.42 L153.90 159.41 L154.80 159.40 L155.70 159.40 L156.60 159.39 L157.50 159.38" stroke="#ff8000" class="c d"/>
<path d="M157.50 159.38 L159.67 159.36 L161.83 159.34 L164.00 159.33 L166.17 159.31 L168.33 159.29 L170.50 159.27 L172.67 159.25 L174.83 159.24 L177.00 159.22 L179.17 159.20 L181.33 159.18 L183.50 159.17 L185.67 159.15 L187.83 159.13 L190.00 159.11 L192.17 159.10 L194.33 159.08 L196.50 159.06 L198.67 159.05 L200.83 159.03 L203.00 159.01 L205.17 159.00 L207.33 158.98 L209.50 158.97 L211.67 158.95 L213.83 158.93 L216.00 158.92 L218.17 158.90 L220.33 158.89 L222.50 158.87 L224.67 158.85 L226.83 158.84 L229.00 158.82 L231.17 158.81 L233.33 158.79 L235.50 158.78 L237.67 158.76 L239.83 158.75 L242.00 158.73 L244.17 158.72 L246.33 158.70 L248.50 158.69 L250.67 158.67 L252.83 158.66 L255.00 158.65 L257.17 158.63 L259.33 158.62 L261.50 158.60 L263.67 158.59 L265.83 158.57 L268.00 158.56 L270.17 158.55 L272.33 158.53 L274.50 158.52 L276.67 158.50 L278.83 158.49 L281.00 158.48 L283.17 158.46 L285.33 158.45 L287.50 158.44 L289.67 158.42 L291.83 158.41 L294.00 158.40 L296.17 158.38 L298.33 158.37 L300.50 158.36 L302.67 158.34 L304.83 158.33 L307.00 158.32 L309.17 158.31 L311.33 158.29 L313.50 158.28 L315.67 158.27 L317.83 158.26 L320.00 158.24 L322.17 158.23 L324.33 158.22 L326.50 158.21 L328.67 158.19 L330.83 158.18 L333.00 158.17 L335.17 158.16 L337.33 158.14 L339.50 158.13 L341.67 158.12 L343.83 158.11 L346.00 158.10 L348.17 158.08 L350.33 158.07 L352.50 158.06 L354.67 158.05 L356.83 158.04 L359.00 158.03 L361.17 158.01 L363.33 158.00 L365.50 157.99 L367.67 157.98 L369.83 157.97 L372.00 157.96" stroke="#ff8000" class="c"/>
<path d="M14.50 181.06 L15.40 180.91 L16.30 180.77 L17.20 180.62 L18.10 180.48 L19.00 180.34 L19.90 180.21 L20.80 180.08 L21.69 179.95 L22.59 179.82 L23.49 179.70 L24.39 179.58 L25.29 179.46 L26.19 179.34 L27.09 179.23 L27.99 179.12 L28.89 179.00 L29.79 178.90 L30.69 178.79 L31.59 178.68 L32.49 178.58 L33.39 178.48 L34.29 178.38 L35.19 178.28 L36.08 178.18 L36.98 178.09 L37.88 177.99 L38.78 177.90 L39.68 177.81 L40.58 177.72 L41.48 177.63 L42.38 177.54 L43.28 177.46 L44.18 177.37 L45.08 177.29 L45.98 177.21 L46.88 177.12 L47.78 177.04 L48.68 176.96 L49.58 176.88 L50.47 176.81 L51.37 176.73 L52.27 176.65 L53.17 176.58 L54.07 176.51 L54.97 176.43 L55.87 176.36 L56.77 176.29 L57.67 176.22 L58.57 176.15 L59.47 176.08 L60.37 176.01 L61.27 175.94 L62.17 175.87 L63.07 175.81 L63.97 175.74 L64.86 175.68 L65.76 175.61 L66.66 175.55 L67.56 175.49 L68.46 175.42 L69.36 175.36 L70.26 175.30 L71.16 175.24 L72.06 175.18 L72.96 175.12 L73.86 175.06 L74.76 175.00 L75.66 174.95 L76.56 174.89 L77.46 174.83 L78.36 174.78 L79.25 174.72 L80.15 174.67 L81.05 174.61 L81.95 174.56 L82.85 174.50 L83.75 174.45 L84.65 174.40 L85.55 174.34 L86.45 174.29 L87.35 174.24 L88.25 174.19 L89.15 174.14 L90.05 174.09 L90.95 174.04 L91.85 173.99 L92.75 173.94 L93.64 173.89 L94.54 173.84 L95.44 173.79 L96.34 173.75 L97.24 173.70 L98.14 173.65 L99.04 173.61 L99.94 173.56 L100.84 173.51 L101.74 173.47 L102.64 173.42 L103.54 173.38 L104.44 173.33 L105.34 173.29 L106.24 173.25 L107.14 173.20 L108.03 173.16 L108.93 173.12 L109.83 173.07 L110.73 173.03 L111.63 172.99 L112.53 172.95 L113.43 172.91 L114.33 172.87 L115.23 172.83 L116.13 172.78 L117.03 172.74 L117.93 172.70 L118.83 172.66 L119.73 172.62 L120.63 172.59 L121.53 172.55 L122.42 172.51 L123.32 172.47 L124.22 172.43 L125.12 172.39 L126.02 172.35 L126.92 172.32 L127.82 172.28 L128.72 172.24 L129.62 172.21 L130.52 172.17 L131.42 172.13 L132.32 172.10 L133.22 172.06 L134.12 172.02 L135.02 171.99 L135.92 171.95 L136.81 171.92 L137.71 171.88 L138.61 171.85 L139.51 171.81 L140.41 171.78 L141.31 171.75 L142.21 171.71 L143.11 171.68 L144.01 171.64 L144.91 171.61 L145.81 171.58 L146.71 171.54 L147.61 171.51 L148.51 171.48 L149.41 171.45 L150.31 171.41 L151.20 171.38 L152.10 171.35 L153.00 171.32 L153.90 171.29 L154.80 171.26 L155.70 171.22 L156.60 171.19 L157.50 171.16" stroke="#ff8000" class="c d"/>
<path d="M157.50 171.16 L159.67 171.09 L161.83 171.02 L164.00 170.94 L166.17 170.87 L168.33 170.80 L170.50 170.73 L172.67 170.66 L174.83 170.60 L177.00 170.53 L179.17 170.46 L181.33 170.40 L183.50 170.33 L185.67 170.27 L187.83 170.20 L190.00 170.14 L192.17 170.08 L194.33 170.02 L196.50 169.96 L198.67 169.90 L200.83 169.84 L203.00 169.78 L205.17 169.72 L207.33 169.66 L209.50 169.61 L211.67 169.55 L213.83 169.49 L216.00 169.44 L218.17 169.38 L220.33 169.33 L222.50 169.27 L224.67 169.22 L226.83 169.17 L229.00 169.12 L231.17 169.06 L233.33 169.01 L235.50 168.96 L237.67 168.91 L239.83 168.86 L242.00 168.81 L244.17 168.76 L246.33 168.71 L248.50 168.67 L250.67 168.62 L252.83 168.57 L255.00 168.52 L257.17 168.48 L259.33 168.43 L261.50 168.38 L263.67 168.34 L265.83 168.29 L268.00 168.25 L270.17 168.20 L272.33 168.16 L274.50 168.12 L276.67 168.07 L278.83 168.03 L281.00 167.99 L283.17 167.95 L285.33 167.90 L287.50 167.86 L289.67 167.82 L291.83 167.78 L294.00 167.74 L296.17 167.70 L298.33 167.66 L300.50 167.62 L302.67 167.58 L304.83 167.54 L307.00 167.50 L309.17 167.46 L311.33 167.42 L313.50 167.39 L315.67 167.35 L317.83 167.31 L320.00 167.27 L322.17 167.24 L324.33 167.20 L326.50 167.16 L328.67 167.13 L330.83 167.09 L333.00 167.05 L335.17 167.02 L337.33 166.98 L339.50 166.95 L341.67 166.91 L343.83 166.88 L346.00 166.85 L348.17 166.81 L350.33 166.78 L352.50 166.74 L354.67 166.71 L356.83 166.68 L359.00 166.64 L361.17 166.61 L363.33 166.58 L365.50 166.55 L367.67 166.51 L369.83 166.48 L372.00 166.45" stroke="#ff8000" class="c"/>
<path d="M43.10 218.29 L43.10 218.25 L43.10 218.19 L43.10 218.10 L43.10 218.00 L43.10 217.89 L43.11 217.77 L43.11 217.64 L43.11 217.50 L43.12 217.35 L43.13 217.19 L43.14 217.02 L43.15 216.85 L43.16 216.67 L43.18 216.49 L43.20 216.30 L43.22 216.10 L43.24 215.90 L43.27 215.69 L43.30 215.48 L43.33 215.27 L43.36 215.05 L43.40 214.83 L43.45 214.60 L43.49 214.37 L43.54 214.14 L43.60 213.90 L43.66 213.66 L43.72 213.42 L43.79 213.18 L43.87 212.93 L43.95 212.68 L44.03 212.43 L44.12 212.18 L44.22 211.93 L44.32 211.67 L44.43 211.41 L44.54 211.15 L44.66 210.89 L44.79 210.63 L44.92 210.37 L45.06 210.10 L45.21 209.84 L45.36 209.57 L45.52 209.30 L45.69 209.04 L45.87 208.77 L46.05 208.50 L46.25 208.23 L46.45 207.96 L46.66 207.69 L46.88 207.42 L47.10 207.15 L47.34 206.88 L47.58 206.61 L47.84 206.34 L48.10 206.07 L48.37 205.79 L48.65 205.52 L48.95 205.25 L49.25 204.98 L49.56 204.71 L49.88 204.44 L50.22 204.18 L50.56 203.91 L50.92 203.64 L51.28 203.37 L51.66 203.10 L52.05 202.84 L52.45 202.57 L52.86 202.31 L53.29 202.04 L53.72 201.78 L54.17 201.51 L54.63 201.25 L55.11 200.99 L55.59 200.73 L56.09 200.47 L56.61 200.21 L57.13 199.95 L57.67 199.69 L58.22 199.44 L58.79 199.18 L59.37 198.93 L59.97 198.67 L60.58 198.42 L61.20 198.17 L61.84 197.92 L62.49 197.67 L63.16 197.42 L63.85 197.17 L64.55 196.93 L65.26 196.68 L65.99 196.44 L66.74 196.20 L67.50 195.95 L68.28 195.71 L69.07 195.47 L69.89 195.24 L70.71 195.00 L71.56 194.76 L72.42 194.53 L73.30 194.29 L74.20 194.06 L75.11 193.83 L76.05 193.60 L77.00 193.37 L77.96 193.14 L78.95 192.92 L79.96 192.69 L80.98 192.47 L82.02 192.24 L83.08 192.02 L84.16 191.80 L85.26 191.58 L86.38 191.37 L87.52 191.15 L88.68 190.93 L89.86 190.72 L91.06 190.51 L92.28 190.29 L93.52 190.08 L94.78 189.87 L96.06 189.66 L97.36 189.46 L98.69 189.25 L100.03 189.05 L101.40 188.84 L102.78 188.64 L104.19 188.44 L105.63 188.24 L107.08 188.04 L108.56 187.84 L110.06 187.65 L111.58 187.45 L113.12 187.26 L114.69 187.07 L116.28 186.87 L117.89 186.68 L119.53 186.49 L121.19 186.31 L122.88 186.12 L124.59 185.93 L126.32 185.75 L128.08 185.56 L129.86 185.38 L131.67 185.20 L133.50 185.02 L135.36 184.84 L137.24 184.66 L139.15 184.49 L141.09 184.31 L143.05 184.14 L145.03 183.96 L147.04 183.79 L149.08 183.62 L151.15 183.45 L153.24 183.28 L155.36 183.11 L157.50 182.94" stroke="#ff8000" class="c d"/>
<path d="M157.50 182.94 L159.67 182.78 L161.83 182.61 L164.00 182.45 L166.17 182.30 L168.33 182.14 L170.50 181.99 L172.67 181.84 L174.83 181.70 L177.00 181.55 L179.17 181.41 L181.33 181.27 L183.50 181.13 L185.67 181.00 L187.83 180.87 L190.00 180.74 L192.17 180.61 L194.33 180.48 L196.50 180.36 L198.67 180.23 L200.83 180.11 L203.00 179.99 L205.17 179.87 L207.33 179.76 L209.50 179.64 L211.67 179.53 L213.83 179.42 L216.00 179.31 L218.17 179.20 L220.33 179.09 L222.50 178.98 L224.67 178.88 L226.83 178.78 L229.00 178.67 L231.17 178.57 L233.33 178.47 L235.50 178.38 L237.67 178.28 L239.83 178.18 L242.00 178.09 L244.17 177.99 L246.33 177.90 L248.50 177.81 L250.67 177.72 L252.83 177.63 L255.00 177.54 L257.17 177.45 L259.33 177.36 L261.50 177.28 L263.67 177.19 L265.83 177.11 L268.00 177.03 L270.17 176.94 L272.33 176.86 L274.50 176.78 L276.67 176.70 L278.83 176.62 L281.00 176.55 L283.17 176.47 L285.33 176.39 L287.50 176.32 L289.67 176.24 L291.83 176.17 L294.00 176.09 L296.17 176.02 L298.33 175.95 L300.50 175.87 L302.67 175.80 L304.83 175.73 L307.00 175.66 L309.17 175.59 L311.33 175.53 L313.50 175.46 L315.67 175.39 L317.83 175.32 L320.00 175.26 L322.17 175.19 L324.33 175.13 L326.50 175.06 L328.67 175.00 L330.83 174.93 L333.00 174.87 L335.17 174.81 L337.33 174.75 L339.50 174.69 L341.67 174.63 L343.83 174.57 L346.00 174.51 L348.17 174.45 L350.33 174.39 L352.50 174.33 L354.67 174.27 L356.83 174.21 L359.00 174.16 L361.17 174.10 L363.33 174.04 L365.50 173.99 L367.67 173.93 L369.83 173.88 L372.00 173.82" stroke="#ff8000" class="c"/>
<path d="M71.70 241.85 L71.70 241.80 L71.70 241.72 L71.70 241.60 L71.70 241.47 L71.70 241.33 L71.70 241.16 L71.71 240.99 L71.71 240.80 L71.72 240.60 L71.72 240.38 L71.73 240.16 L71.74 239.93 L71.75 239.69 L71.76 239.45 L71.77 239.19 L71.79 238.93 L71.80 238.66 L71.82 238.39 L71.85 238.11 L71.87 237.82 L71.90 237.53 L71.93 237.23 L71.96 236.93 L72.00 236.63 L72.03 236.32 L72.08 236.00 L72.12 235.68 L72.17 235.36 L72.22 235.04 L72.28 234.71 L72.34 234.38 L72.40 234.04 L72.47 233.71 L72.54 233.37 L72.62 233.03 L72.70 232.68 L72.78 232.34 L72.87 231.99 L72.97 231.64 L73.07 231.29 L73.17 230.94 L73.28 230.58 L73.40 230.23 L73.52 229.87 L73.65 229.51 L73.78 229.16 L73.92 228.80 L74.06 228.44 L74.21 228.08 L74.37 227.72 L74.53 227.36 L74.70 227.00 L74.88 226.64 L75.06 226.28 L75.25 225.91 L75.45 225.55 L75.65 225.19 L75.86 224.83 L76.08 224.47 L76.31 224.11 L76.54 223.75 L76.79 223.39 L77.04 223.03 L77.30 222.68 L77.56 222.32 L77.84 221.96 L78.12 221.60 L78.41 221.25 L78.71 220.89 L79.02 220.54 L79.34 220.19 L79.67 219.84 L80.00 219.48 L80.35 219.13 L80.70 218.79 L81.07 218.44 L81.44 218.09 L81.83 217.75 L82.22 217.40 L82.63 217.06 L83.04 216.72 L83.47 216.38 L83.90 216.04 L84.35 215.70 L84.81 215.36 L85.28 215.03 L85.76 214.69 L86.25 214.36 L86.75 214.03 L87.26 213.70 L87.78 213.37 L88.32 213.04 L88.87 212.72 L89.43 212.39 L90.00 212.07 L90.58 211.75 L91.18 211.43 L91.79 211.11 L92.41 210.80 L93.04 210.48 L93.69 210.17 L94.35 209.86 L95.02 209.55 L95.71 209.24 L96.41 208.93 L97.12 208.63 L97.85 208.32 L98.59 208.02 L99.34 207.72 L100.11 207.42 L100.89 207.13 L101.69 206.83 L102.50 206.54 L103.32 206.24 L104.16 205.95 L105.02 205.66 L105.89 205.38 L106.77 205.09 L107.67 204.81 L108.58 204.52 L109.51 204.24 L110.46 203.96 L111.42 203.69 L112.40 203.41 L113.39 203.14 L114.40 202.86 L115.42 202.59 L116.46 202.32 L117.52 202.05 L118.59 201.79 L119.69 201.52 L120.79 201.26 L121.92 201.00 L123.06 200.74 L124.22 200.48 L125.39 200.22 L126.59 199.97 L127.80 199.71 L129.02 199.46 L130.27 199.21 L131.53 198.96 L132.82 198.71 L134.12 198.46 L135.44 198.22 L136.77 197.98 L138.13 197.73 L139.50 197.49 L140.90 197.26 L142.31 197.02 L143.74 196.78 L145.19 196.55 L146.66 196.31 L148.15 196.08 L149.66 195.85 L151.19 195.62 L152.73 195.40 L154.30 195.17 L155.89 194.95 L157.50 194.72" stroke="#ff8000" class="c d"/>
<path d="M157.50 194.72 L159.67 194.43 L161.83 194.14 L164.00 193.86 L166.17 193.59 L168.33 193.32 L170.50 193.06 L172.67 192.81 L174.83 192.56 L177.00 192.31 L179.17 192.07 L181.33 191.84 L183.50 191.61 L185.67 191.39 L187.83 191.16 L190.00 190.95 L192.17 190.74 L194.33 190.53 L196.50 190.32 L198.67 190.12 L200.83 189.92 L203.00 189.73 L205.17 189.54 L207.33 189.35 L209.50 189.17 L211.67 188.99 L213.83 188.81 L216.00 188.63 L218.17 188.46 L220.33 188.29 L222.50 188.12 L224.67 187.96 L226.83 187.80 L229.00 187.64 L231.17 187.48 L233.33 187.32 L235.50 187.17 L237.67 187.02 L239.83 186.87 L242.00 186.73 L244.17 186.58 L246.33 186.44 L248.50 186.30 L250.67 186.16 L252.83 186.02 L255.00 185.89 L257.17 185.75 L259.33 185.62 L261.50 185.49 L263.67 185.36 L265.83 185.24 L268.00 185.11 L270.17 184.99 L272.33 184.86 L274.50 184.74 L276.67 184.62 L278.83 184.51 L281.00 184.39 L283.17 184.27 L285.33 184.16 L287.50 184.05 L289.67 183.93 L291.83 183.82 L294.00 183.72 L296.17 183.61 L298.33 183.50 L300.50 183.39 L302.67 183.29 L304.83 183.19 L307.00 183.08 L309.17 182.98 L311.33 182.88 L313.50 182.78 L315.67 182.69 L317.83 182.59 L320.00 182.49 L322.17 182.40 L324.33 182.30 L326.50 182.21 L328.67 182.12 L330.83 182.02 L333.00 181.93 L335.17 181.84 L337.33 181.75 L339.50 181.67 L341.67 181.58 L343.83 181.49 L346.00 181.40 L348.17 181.32 L350.33 181.23 L352.50 181.15 L354.67 181.07 L356.83 180.99 L359.00 180.90 L361.17 180.82 L363.33 180.74 L365.50 180.66 L367.67 180.59 L369.83 180.51 L372.00 180.43" stroke="#ff8000" class="c"/>
<path d="M225.35 28.42 L226.28 30.02 L227.20 31.58 L228.12 33.09 L229.04 34.57 L229.97 36.01 L230.89 37.41 L231.81 38.78 L232.73 40.11 L233.65 41.41 L234.58 42.69 L235.50 43.93 L236.42 45.14 L237.34 46.32 L238.27 47.48 L239.19 48.61 L240.11 49.71 L241.03 50.79 L241.95 51.85 L242.88 52.89 L243.80 53.90 L244.72 54.89 L245.64 55.86 L246.57 56.81 L247.49 57.74 L248.41 58.65 L249.33 59.54 L250.26 60.42 L251.18 61.28 L252.10 62.12 L253.02 62.95 L253.94 63.75 L254.87 64.55 L255.79 65.33 L256.71 66.09 L257.63 66.84 L258.56 67.58 L259.48 68.30 L260.40 69.02 L261.32 69.71 L262.25 70.40 L263.17 71.07 L264.09 71.74 L265.01 72.39 L265.93 73.03 L266.86 73.65 L267.78 74.27 L268.70 74.88 L269.62 75.48 L270.55 76.07 L271.47 76.65 L272.39 77.22 L273.31 77.78 L274.24 78.33 L275.16 78.87 L276.08 79.41 L277.00 79.93 L277.92 80.45 L278.85 80.96 L279.77 81.46 L280.69 81.96 L281.61 82.45 L282.54 82.93 L283.46 83.40 L284.38 83.87 L285.30 84.33 L286.23 84.78 L287.15 85.23 L288.07 85.67 L288.99 86.10 L289.91 86.53 L290.84 86.95 L291.76 87.37 L292.68 87.78 L293.60 88.19 L294.53 88.59 L295.45 88.98 L296.37 89.37 L297.29 89.75 L298.22 90.13 L299.14 90.51 L300.06 90.88 L300.98 91.24 L301.90 91.60 L302.83 91.96 L303.75 92.31 L304.67 92.65 L305.59 93.00 L306.52 93.33 L307.44 93.67 L308.36 94.00 L309.28 94.32 L310.21 94.65 L311.13 94.96 L312.05 95.28 L312.97 95.59 L313.89 95.89 L314.82 96.20 L315.74 96.50 L316.66 96.79 L317.58 97.09 L318.51 97.38 L319.43 97.66 L320.35 97.94 L321.27 98.22 L322.20 98.50 L323.12 98.77 L324.04 99.04 L324.96 99.31 L325.88 99.58 L326.81 99.84 L327.73 100.10 L328.65 100.35 L329.57 100.61 L330.50 100.86 L331.42 101.10 L332.34 101.35 L333.26 101.59 L334.19 101.83 L335.11 102.07 L336.03 102.31 L336.95 102.54 L337.87 102.77 L338.80 103.00 L339.72 103.22 L340.64 103.45 L341.56 103.67 L342.49 103.89 L343.41 104.10 L344.33 104.32 L345.25 104.53 L346.18 104.74 L347.10 104.95 L348.02 105.16 L348.94 105.36 L349.86 105.56 L350.79 105.76 L351.71 105.96 L352.63 106.16 L353.55 106.35 L354.48 106.55 L355.40 106.74 L356.32 106.93 L357.24 107.12 L358.17 107.30 L359.09 107.49 L360.01 107.67 L360.93 107.85 L361.85 108.03 L362.78 108.21 L363.70 108.38 L364.62 108.56 L365.54 108.73 L366.47 108.90 L367.39 109.07 L368.31 109.24 L369.23 109.41 L370.16 109.57 L371.08 109.74 L372.00 109.90" stroke="#000" stroke-dasharray="6.4 2.85" class="c"/>
</g>
</svg>
</body></html>
